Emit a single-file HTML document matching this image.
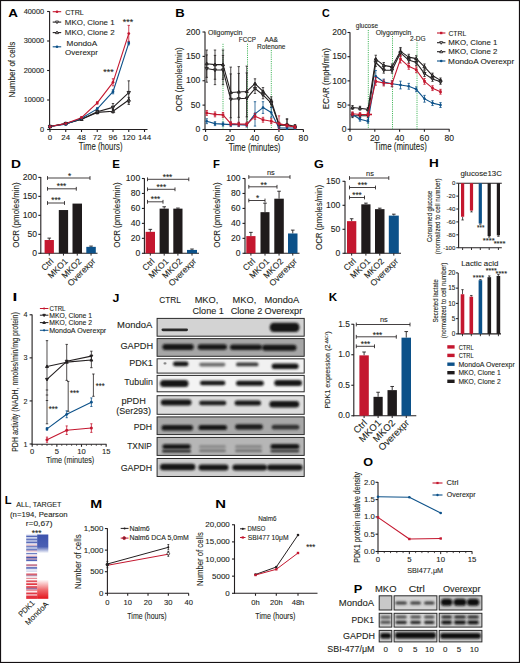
<!DOCTYPE html><html><head><meta charset="utf-8"><style>html,body{margin:0;padding:0;background:#fff;}svg{display:block;font-family:"Liberation Sans",sans-serif;}text{stroke:#231f20;stroke-width:0.1px;}text[font-weight=bold]{stroke:none;}</style></head><body><svg width="520" height="663" viewBox="0 0 520 663" font-family="Liberation Sans, sans-serif" fill="#231f20"><defs><filter id="bl" x="-20%" y="-80%" width="140%" height="260%"><feGaussianBlur stdDeviation="0.85"/></filter><filter id="bl2" x="-20%" y="-80%" width="140%" height="260%"><feGaussianBlur stdDeviation="0.5"/></filter></defs><rect x="0" y="0" width="520" height="663" fill="#fff"/>
<text x="8.16" y="16.6" font-size="10.8" font-weight="bold" fill="#000" textLength="9.7" lengthAdjust="spacingAndGlyphs">A</text>
<line x1="49.6" y1="11.2" x2="49.6" y2="130" stroke="#231f20" stroke-width="1.1"/>
<line x1="47.1" y1="11.5" x2="49.6" y2="11.5" stroke="#231f20" stroke-width="1.1"/>
<text x="44.2" y="13.79" font-size="7.4" text-anchor="end">40000</text>
<line x1="47.1" y1="41" x2="49.6" y2="41" stroke="#231f20" stroke-width="1.1"/>
<text x="44.2" y="43.29" font-size="7.4" text-anchor="end">30000</text>
<line x1="47.1" y1="70.5" x2="49.6" y2="70.5" stroke="#231f20" stroke-width="1.1"/>
<text x="44.2" y="72.79" font-size="7.4" text-anchor="end">20000</text>
<line x1="47.1" y1="100" x2="49.6" y2="100" stroke="#231f20" stroke-width="1.1"/>
<text x="44.2" y="102.29" font-size="7.4" text-anchor="end">10000</text>
<line x1="47.1" y1="129.5" x2="49.6" y2="129.5" stroke="#231f20" stroke-width="1.1"/>
<text x="44.2" y="131.79" font-size="7.4" text-anchor="end">0</text>
<line x1="49.1" y1="129.5" x2="147.5" y2="129.5" stroke="#231f20" stroke-width="1.1"/>
<line x1="50" y1="129.5" x2="50" y2="132" stroke="#231f20" stroke-width="1.1"/>
<text x="50" y="139.84" font-size="7.9" text-anchor="middle">0</text>
<line x1="65.75" y1="129.5" x2="65.75" y2="132" stroke="#231f20" stroke-width="1.1"/>
<text x="65.75" y="139.84" font-size="7.9" text-anchor="middle">24</text>
<line x1="81.5" y1="129.5" x2="81.5" y2="132" stroke="#231f20" stroke-width="1.1"/>
<text x="81.5" y="139.84" font-size="7.9" text-anchor="middle">48</text>
<line x1="97.25" y1="129.5" x2="97.25" y2="132" stroke="#231f20" stroke-width="1.1"/>
<text x="97.25" y="139.84" font-size="7.9" text-anchor="middle">72</text>
<line x1="113" y1="129.5" x2="113" y2="132" stroke="#231f20" stroke-width="1.1"/>
<text x="113" y="139.84" font-size="7.9" text-anchor="middle">96</text>
<line x1="128.76" y1="129.5" x2="128.76" y2="132" stroke="#231f20" stroke-width="1.1"/>
<text x="128.76" y="139.84" font-size="7.9" text-anchor="middle">120</text>
<line x1="144.51" y1="129.5" x2="144.51" y2="132" stroke="#231f20" stroke-width="1.1"/>
<text x="144.51" y="139.84" font-size="7.9" text-anchor="middle">144</text>
<text x="78.85" y="150.3" font-size="10" textLength="43.62" lengthAdjust="spacingAndGlyphs">Time (hours)</text>
<text transform="translate(15.41 97.44) rotate(-90)" font-size="9" textLength="55.84" lengthAdjust="spacingAndGlyphs">Number of cells</text>
<polyline points="50,126.55 65.75,123.6 81.5,119.17 97.25,112.39 113,111.21 128.76,100" fill="none" stroke="#231f20" stroke-width="1.1" stroke-linejoin="round"/>
<line x1="50" y1="125.67" x2="50" y2="127.44" stroke="#231f20" stroke-width="0.8"/>
<line x1="48.8" y1="125.67" x2="51.2" y2="125.67" stroke="#231f20" stroke-width="0.8"/>
<line x1="48.8" y1="127.44" x2="51.2" y2="127.44" stroke="#231f20" stroke-width="0.8"/>
<line x1="65.75" y1="122.72" x2="65.75" y2="124.48" stroke="#231f20" stroke-width="0.8"/>
<line x1="64.55" y1="122.72" x2="66.95" y2="122.72" stroke="#231f20" stroke-width="0.8"/>
<line x1="64.55" y1="124.48" x2="66.95" y2="124.48" stroke="#231f20" stroke-width="0.8"/>
<line x1="81.5" y1="118" x2="81.5" y2="120.36" stroke="#231f20" stroke-width="0.8"/>
<line x1="80.3" y1="118" x2="82.7" y2="118" stroke="#231f20" stroke-width="0.8"/>
<line x1="80.3" y1="120.36" x2="82.7" y2="120.36" stroke="#231f20" stroke-width="0.8"/>
<line x1="97.25" y1="110.91" x2="97.25" y2="113.86" stroke="#231f20" stroke-width="0.8"/>
<line x1="96.05" y1="110.91" x2="98.45" y2="110.91" stroke="#231f20" stroke-width="0.8"/>
<line x1="96.05" y1="113.86" x2="98.45" y2="113.86" stroke="#231f20" stroke-width="0.8"/>
<line x1="113" y1="109.44" x2="113" y2="112.98" stroke="#231f20" stroke-width="0.8"/>
<line x1="111.8" y1="109.44" x2="114.2" y2="109.44" stroke="#231f20" stroke-width="0.8"/>
<line x1="111.8" y1="112.98" x2="114.2" y2="112.98" stroke="#231f20" stroke-width="0.8"/>
<line x1="128.76" y1="97.34" x2="128.76" y2="102.66" stroke="#231f20" stroke-width="0.8"/>
<line x1="127.56" y1="97.34" x2="129.96" y2="97.34" stroke="#231f20" stroke-width="0.8"/>
<line x1="127.56" y1="102.66" x2="129.96" y2="102.66" stroke="#231f20" stroke-width="0.8"/>
<polyline points="50,126.55 65.75,123.6 81.5,119.17 97.25,111.8 113,107.38 128.76,92.62" fill="none" stroke="#231f20" stroke-width="1.1" stroke-linejoin="round"/>
<line x1="50" y1="125.67" x2="50" y2="127.44" stroke="#231f20" stroke-width="0.8"/>
<line x1="48.8" y1="125.67" x2="51.2" y2="125.67" stroke="#231f20" stroke-width="0.8"/>
<line x1="48.8" y1="127.44" x2="51.2" y2="127.44" stroke="#231f20" stroke-width="0.8"/>
<line x1="65.75" y1="122.72" x2="65.75" y2="124.48" stroke="#231f20" stroke-width="0.8"/>
<line x1="64.55" y1="122.72" x2="66.95" y2="122.72" stroke="#231f20" stroke-width="0.8"/>
<line x1="64.55" y1="124.48" x2="66.95" y2="124.48" stroke="#231f20" stroke-width="0.8"/>
<line x1="81.5" y1="118" x2="81.5" y2="120.36" stroke="#231f20" stroke-width="0.8"/>
<line x1="80.3" y1="118" x2="82.7" y2="118" stroke="#231f20" stroke-width="0.8"/>
<line x1="80.3" y1="120.36" x2="82.7" y2="120.36" stroke="#231f20" stroke-width="0.8"/>
<line x1="97.25" y1="110.33" x2="97.25" y2="113.28" stroke="#231f20" stroke-width="0.8"/>
<line x1="96.05" y1="110.33" x2="98.45" y2="110.33" stroke="#231f20" stroke-width="0.8"/>
<line x1="96.05" y1="113.28" x2="98.45" y2="113.28" stroke="#231f20" stroke-width="0.8"/>
<line x1="113" y1="103.54" x2="113" y2="111.21" stroke="#231f20" stroke-width="0.8"/>
<line x1="111.8" y1="103.54" x2="114.2" y2="103.54" stroke="#231f20" stroke-width="0.8"/>
<line x1="111.8" y1="111.21" x2="114.2" y2="111.21" stroke="#231f20" stroke-width="0.8"/>
<line x1="128.76" y1="80.83" x2="128.76" y2="104.42" stroke="#231f20" stroke-width="0.8"/>
<line x1="127.56" y1="80.83" x2="129.96" y2="80.83" stroke="#231f20" stroke-width="0.8"/>
<line x1="127.56" y1="104.42" x2="129.96" y2="104.42" stroke="#231f20" stroke-width="0.8"/>
<polyline points="50,126.55 65.75,124.19 81.5,118.29 97.25,108.85 113,91.74 128.76,43.06" fill="none" stroke="#0c5189" stroke-width="1.1" stroke-linejoin="round"/>
<line x1="50" y1="125.67" x2="50" y2="127.44" stroke="#0c5189" stroke-width="0.8"/>
<line x1="48.8" y1="125.67" x2="51.2" y2="125.67" stroke="#0c5189" stroke-width="0.8"/>
<line x1="48.8" y1="127.44" x2="51.2" y2="127.44" stroke="#0c5189" stroke-width="0.8"/>
<line x1="65.75" y1="123.31" x2="65.75" y2="125.08" stroke="#0c5189" stroke-width="0.8"/>
<line x1="64.55" y1="123.31" x2="66.95" y2="123.31" stroke="#0c5189" stroke-width="0.8"/>
<line x1="64.55" y1="125.08" x2="66.95" y2="125.08" stroke="#0c5189" stroke-width="0.8"/>
<line x1="81.5" y1="117.41" x2="81.5" y2="119.17" stroke="#0c5189" stroke-width="0.8"/>
<line x1="80.3" y1="117.41" x2="82.7" y2="117.41" stroke="#0c5189" stroke-width="0.8"/>
<line x1="80.3" y1="119.17" x2="82.7" y2="119.17" stroke="#0c5189" stroke-width="0.8"/>
<line x1="97.25" y1="107.67" x2="97.25" y2="110.03" stroke="#0c5189" stroke-width="0.8"/>
<line x1="96.05" y1="107.67" x2="98.45" y2="107.67" stroke="#0c5189" stroke-width="0.8"/>
<line x1="96.05" y1="110.03" x2="98.45" y2="110.03" stroke="#0c5189" stroke-width="0.8"/>
<line x1="113" y1="89.68" x2="113" y2="93.81" stroke="#0c5189" stroke-width="0.8"/>
<line x1="111.8" y1="89.68" x2="114.2" y2="89.68" stroke="#0c5189" stroke-width="0.8"/>
<line x1="111.8" y1="93.81" x2="114.2" y2="93.81" stroke="#0c5189" stroke-width="0.8"/>
<line x1="128.76" y1="41.3" x2="128.76" y2="44.84" stroke="#0c5189" stroke-width="0.8"/>
<line x1="127.56" y1="41.3" x2="129.96" y2="41.3" stroke="#0c5189" stroke-width="0.8"/>
<line x1="127.56" y1="44.84" x2="129.96" y2="44.84" stroke="#0c5189" stroke-width="0.8"/>
<polyline points="50,126.55 65.75,123.6 81.5,117.7 97.25,102.95 113,82.3 128.76,33.62" fill="none" stroke="#c4172f" stroke-width="1.1" stroke-linejoin="round"/>
<line x1="50" y1="125.67" x2="50" y2="127.44" stroke="#c4172f" stroke-width="0.8"/>
<line x1="48.8" y1="125.67" x2="51.2" y2="125.67" stroke="#c4172f" stroke-width="0.8"/>
<line x1="48.8" y1="127.44" x2="51.2" y2="127.44" stroke="#c4172f" stroke-width="0.8"/>
<line x1="65.75" y1="122.72" x2="65.75" y2="124.48" stroke="#c4172f" stroke-width="0.8"/>
<line x1="64.55" y1="122.72" x2="66.95" y2="122.72" stroke="#c4172f" stroke-width="0.8"/>
<line x1="64.55" y1="124.48" x2="66.95" y2="124.48" stroke="#c4172f" stroke-width="0.8"/>
<line x1="81.5" y1="116.52" x2="81.5" y2="118.88" stroke="#c4172f" stroke-width="0.8"/>
<line x1="80.3" y1="116.52" x2="82.7" y2="116.52" stroke="#c4172f" stroke-width="0.8"/>
<line x1="80.3" y1="118.88" x2="82.7" y2="118.88" stroke="#c4172f" stroke-width="0.8"/>
<line x1="97.25" y1="101.77" x2="97.25" y2="104.13" stroke="#c4172f" stroke-width="0.8"/>
<line x1="96.05" y1="101.77" x2="98.45" y2="101.77" stroke="#c4172f" stroke-width="0.8"/>
<line x1="96.05" y1="104.13" x2="98.45" y2="104.13" stroke="#c4172f" stroke-width="0.8"/>
<line x1="113" y1="78.76" x2="113" y2="85.84" stroke="#c4172f" stroke-width="0.8"/>
<line x1="111.8" y1="78.76" x2="114.2" y2="78.76" stroke="#c4172f" stroke-width="0.8"/>
<line x1="111.8" y1="85.84" x2="114.2" y2="85.84" stroke="#c4172f" stroke-width="0.8"/>
<line x1="128.76" y1="25.37" x2="128.76" y2="41.89" stroke="#c4172f" stroke-width="0.8"/>
<line x1="127.56" y1="25.37" x2="129.96" y2="25.37" stroke="#c4172f" stroke-width="0.8"/>
<line x1="127.56" y1="41.89" x2="129.96" y2="41.89" stroke="#c4172f" stroke-width="0.8"/>
<polygon points="50,124.78 48.3,127.73 51.7,127.73" fill="#555" stroke="#231f20" stroke-width="0.9"/>
<polygon points="65.75,121.83 64.05,124.78 67.45,124.78" fill="#555" stroke="#231f20" stroke-width="0.9"/>
<polygon points="81.5,117.4 79.8,120.36 83.2,120.36" fill="#555" stroke="#231f20" stroke-width="0.9"/>
<polygon points="97.25,110.62 95.55,113.57 98.95,113.57" fill="#555" stroke="#231f20" stroke-width="0.9"/>
<polygon points="113,109.44 111.3,112.39 114.7,112.39" fill="#555" stroke="#231f20" stroke-width="0.9"/>
<polygon points="128.76,98.23 127.06,101.18 130.46,101.18" fill="#555" stroke="#231f20" stroke-width="0.9"/>
<polygon points="50,128.32 48.3,125.37 51.7,125.37" fill="#555" stroke="#231f20" stroke-width="0.9"/>
<polygon points="65.75,125.37 64.05,122.42 67.45,122.42" fill="#555" stroke="#231f20" stroke-width="0.9"/>
<polygon points="81.5,120.95 79.8,117.99 83.2,117.99" fill="#555" stroke="#231f20" stroke-width="0.9"/>
<polygon points="97.25,113.57 95.55,110.62 98.95,110.62" fill="#555" stroke="#231f20" stroke-width="0.9"/>
<polygon points="113,109.15 111.3,106.19 114.7,106.19" fill="#555" stroke="#231f20" stroke-width="0.9"/>
<polygon points="128.76,94.4 127.06,91.44 130.46,91.44" fill="#555" stroke="#231f20" stroke-width="0.9"/>
<circle cx="50" cy="126.55" r="1.4" fill="#0c5189" stroke="none" stroke-width="0"/>
<circle cx="65.75" cy="124.19" r="1.4" fill="#0c5189" stroke="none" stroke-width="0"/>
<circle cx="81.5" cy="118.29" r="1.4" fill="#0c5189" stroke="none" stroke-width="0"/>
<circle cx="97.25" cy="108.85" r="1.4" fill="#0c5189" stroke="none" stroke-width="0"/>
<circle cx="113" cy="91.74" r="1.4" fill="#0c5189" stroke="none" stroke-width="0"/>
<circle cx="128.76" cy="43.06" r="1.4" fill="#0c5189" stroke="none" stroke-width="0"/>
<circle cx="50" cy="126.55" r="1.4" fill="#c4172f" stroke="none" stroke-width="0"/>
<circle cx="65.75" cy="123.6" r="1.4" fill="#c4172f" stroke="none" stroke-width="0"/>
<circle cx="81.5" cy="117.7" r="1.4" fill="#c4172f" stroke="none" stroke-width="0"/>
<circle cx="97.25" cy="102.95" r="1.4" fill="#c4172f" stroke="none" stroke-width="0"/>
<circle cx="113" cy="82.3" r="1.4" fill="#c4172f" stroke="none" stroke-width="0"/>
<circle cx="128.76" cy="33.62" r="1.4" fill="#c4172f" stroke="none" stroke-width="0"/>
<text x="122.82" y="25.22" font-size="8.2" textLength="10.33" lengthAdjust="spacingAndGlyphs">***</text>
<text x="103.32" y="75.22" font-size="8.2" textLength="10.33" lengthAdjust="spacingAndGlyphs">***</text>
<line x1="52.7" y1="11.7" x2="61.2" y2="11.7" stroke="#c4172f" stroke-width="1.1"/>
<circle cx="57" cy="11.7" r="1.3" fill="#c4172f" stroke="none" stroke-width="0"/>
<line x1="52.7" y1="22.1" x2="61.2" y2="22.1" stroke="#231f20" stroke-width="1.1"/>
<polygon points="57,23.67 55.5,21.06 58.5,21.06" fill="#fff" stroke="#231f20" stroke-width="0.9"/>
<line x1="52.7" y1="32.6" x2="61.2" y2="32.6" stroke="#231f20" stroke-width="1.1"/>
<polygon points="57,31.03 55.5,33.64 58.5,33.64" fill="#fff" stroke="#231f20" stroke-width="0.9"/>
<line x1="52.7" y1="46.8" x2="61.2" y2="46.8" stroke="#0c5189" stroke-width="1.1"/>
<circle cx="57" cy="46.8" r="1.3" fill="#0c5189" stroke="none" stroke-width="0"/>
<text x="65.14" y="14.8" font-size="7.9" textLength="18.68" lengthAdjust="spacingAndGlyphs">CTRL</text>
<text x="64.87" y="24.9" font-size="7.9" textLength="49.73" lengthAdjust="spacingAndGlyphs">MKO, Clone 1</text>
<text x="64.87" y="35.1" font-size="7.9" textLength="49.73" lengthAdjust="spacingAndGlyphs">MKO, Clone 2</text>
<text x="66.54" y="45.7" font-size="7.9" textLength="30.66" lengthAdjust="spacingAndGlyphs">MondoA</text>
<text x="65.14" y="54.7" font-size="7.9" textLength="32.8" lengthAdjust="spacingAndGlyphs">Overexpr</text>
<text x="175.15" y="17" font-size="10.8" font-weight="bold" fill="#000" textLength="9.47" lengthAdjust="spacingAndGlyphs">B</text>
<line x1="205" y1="31.7" x2="205" y2="130" stroke="#231f20" stroke-width="1.1"/>
<line x1="202.5" y1="32" x2="205" y2="32" stroke="#231f20" stroke-width="1.1"/>
<text x="200.3" y="34.67" font-size="8.6" text-anchor="end">200</text>
<line x1="202.5" y1="56.38" x2="205" y2="56.38" stroke="#231f20" stroke-width="1.1"/>
<text x="200.3" y="59.04" font-size="8.6" text-anchor="end">150</text>
<line x1="202.5" y1="80.75" x2="205" y2="80.75" stroke="#231f20" stroke-width="1.1"/>
<text x="200.3" y="83.42" font-size="8.6" text-anchor="end">100</text>
<line x1="202.5" y1="105.12" x2="205" y2="105.12" stroke="#231f20" stroke-width="1.1"/>
<text x="200.3" y="107.79" font-size="8.6" text-anchor="end">50</text>
<line x1="202.5" y1="129.5" x2="205" y2="129.5" stroke="#231f20" stroke-width="1.1"/>
<text x="200.3" y="132.17" font-size="8.6" text-anchor="end">0</text>
<line x1="204.5" y1="129.5" x2="303.5" y2="129.5" stroke="#231f20" stroke-width="1.1"/>
<line x1="205.6" y1="129.5" x2="205.6" y2="132" stroke="#231f20" stroke-width="1.1"/>
<text x="205.6" y="140.7" font-size="8.6" text-anchor="middle">0</text>
<line x1="230.05" y1="129.5" x2="230.05" y2="132" stroke="#231f20" stroke-width="1.1"/>
<text x="230.05" y="140.7" font-size="8.6" text-anchor="middle">20</text>
<line x1="254.5" y1="129.5" x2="254.5" y2="132" stroke="#231f20" stroke-width="1.1"/>
<text x="254.5" y="140.7" font-size="8.6" text-anchor="middle">40</text>
<line x1="278.95" y1="129.5" x2="278.95" y2="132" stroke="#231f20" stroke-width="1.1"/>
<text x="278.95" y="140.7" font-size="8.6" text-anchor="middle">60</text>
<line x1="303.4" y1="129.5" x2="303.4" y2="132" stroke="#231f20" stroke-width="1.1"/>
<text x="303.4" y="140.7" font-size="8.6" text-anchor="middle">80</text>
<text x="228.64" y="151.2" font-size="10" textLength="51.83" lengthAdjust="spacingAndGlyphs">Time (minutes)</text>
<text transform="translate(182.24 111.55) rotate(-90)" font-size="8.8" textLength="64.25" lengthAdjust="spacingAndGlyphs">OCR (pmoles/min)</text>
<line x1="223" y1="43.8" x2="223" y2="129" stroke="#2eae48" stroke-width="0.9" stroke-dasharray="1.1 1.1"/>
<line x1="247.5" y1="43.8" x2="247.5" y2="129" stroke="#2eae48" stroke-width="0.9" stroke-dasharray="1.1 1.1"/>
<line x1="271.3" y1="50" x2="271.3" y2="129" stroke="#2eae48" stroke-width="0.9" stroke-dasharray="1.1 1.1"/>
<text x="208" y="34.5" font-size="7" textLength="34.5" lengthAdjust="spacingAndGlyphs">Oligomycin</text>
<text x="238.8" y="42" font-size="7" textLength="17.2" lengthAdjust="spacingAndGlyphs">FCCP</text>
<text x="264.5" y="42" font-size="7" textLength="13.5" lengthAdjust="spacingAndGlyphs">AA&amp;</text>
<text x="257" y="48.5" font-size="7" textLength="28.5" lengthAdjust="spacingAndGlyphs">Rotenone</text>
<polyline points="206.75,63.69 215,64.66 223,64.66 230.75,92.45 238.75,91.96 246.75,91.47 255,83.68 263,91.47 271.25,100.74 279,124.62 287,124.62 295,126.58" fill="none" stroke="#231f20" stroke-width="1.1" stroke-linejoin="round"/>
<line x1="206.75" y1="50.04" x2="206.75" y2="77.34" stroke="#231f20" stroke-width="0.8"/>
<line x1="205.55" y1="50.04" x2="207.95" y2="50.04" stroke="#231f20" stroke-width="0.8"/>
<line x1="205.55" y1="77.34" x2="207.95" y2="77.34" stroke="#231f20" stroke-width="0.8"/>
<line x1="215" y1="50.04" x2="215" y2="79.29" stroke="#231f20" stroke-width="0.8"/>
<line x1="213.8" y1="50.04" x2="216.2" y2="50.04" stroke="#231f20" stroke-width="0.8"/>
<line x1="213.8" y1="79.29" x2="216.2" y2="79.29" stroke="#231f20" stroke-width="0.8"/>
<line x1="223" y1="50.04" x2="223" y2="79.29" stroke="#231f20" stroke-width="0.8"/>
<line x1="221.8" y1="50.04" x2="224.2" y2="50.04" stroke="#231f20" stroke-width="0.8"/>
<line x1="221.8" y1="79.29" x2="224.2" y2="79.29" stroke="#231f20" stroke-width="0.8"/>
<line x1="230.75" y1="67.1" x2="230.75" y2="117.8" stroke="#231f20" stroke-width="0.8"/>
<line x1="229.55" y1="67.1" x2="231.95" y2="67.1" stroke="#231f20" stroke-width="0.8"/>
<line x1="229.55" y1="117.8" x2="231.95" y2="117.8" stroke="#231f20" stroke-width="0.8"/>
<line x1="238.75" y1="66.61" x2="238.75" y2="117.31" stroke="#231f20" stroke-width="0.8"/>
<line x1="237.55" y1="66.61" x2="239.95" y2="66.61" stroke="#231f20" stroke-width="0.8"/>
<line x1="237.55" y1="117.31" x2="239.95" y2="117.31" stroke="#231f20" stroke-width="0.8"/>
<line x1="246.75" y1="66.12" x2="246.75" y2="116.83" stroke="#231f20" stroke-width="0.8"/>
<line x1="245.55" y1="66.12" x2="247.95" y2="66.12" stroke="#231f20" stroke-width="0.8"/>
<line x1="245.55" y1="116.83" x2="247.95" y2="116.83" stroke="#231f20" stroke-width="0.8"/>
<line x1="255" y1="78.8" x2="255" y2="88.55" stroke="#231f20" stroke-width="0.8"/>
<line x1="253.8" y1="78.8" x2="256.2" y2="78.8" stroke="#231f20" stroke-width="0.8"/>
<line x1="253.8" y1="88.55" x2="256.2" y2="88.55" stroke="#231f20" stroke-width="0.8"/>
<line x1="263" y1="87.58" x2="263" y2="95.38" stroke="#231f20" stroke-width="0.8"/>
<line x1="261.8" y1="87.58" x2="264.2" y2="87.58" stroke="#231f20" stroke-width="0.8"/>
<line x1="261.8" y1="95.38" x2="264.2" y2="95.38" stroke="#231f20" stroke-width="0.8"/>
<line x1="271.25" y1="96.84" x2="271.25" y2="104.64" stroke="#231f20" stroke-width="0.8"/>
<line x1="270.05" y1="96.84" x2="272.45" y2="96.84" stroke="#231f20" stroke-width="0.8"/>
<line x1="270.05" y1="104.64" x2="272.45" y2="104.64" stroke="#231f20" stroke-width="0.8"/>
<line x1="279" y1="122.19" x2="279" y2="127.06" stroke="#231f20" stroke-width="0.8"/>
<line x1="277.8" y1="122.19" x2="280.2" y2="122.19" stroke="#231f20" stroke-width="0.8"/>
<line x1="277.8" y1="127.06" x2="280.2" y2="127.06" stroke="#231f20" stroke-width="0.8"/>
<line x1="287" y1="118.78" x2="287" y2="129.5" stroke="#231f20" stroke-width="0.8"/>
<line x1="285.8" y1="118.78" x2="288.2" y2="118.78" stroke="#231f20" stroke-width="0.8"/>
<line x1="285.8" y1="129.5" x2="288.2" y2="129.5" stroke="#231f20" stroke-width="0.8"/>
<line x1="295" y1="124.62" x2="295" y2="128.53" stroke="#231f20" stroke-width="0.8"/>
<line x1="293.8" y1="124.62" x2="296.2" y2="124.62" stroke="#231f20" stroke-width="0.8"/>
<line x1="293.8" y1="128.53" x2="296.2" y2="128.53" stroke="#231f20" stroke-width="0.8"/>
<polygon points="206.75,62.02 205.15,64.8 208.35,64.8" fill="#555" stroke="#231f20" stroke-width="0.9"/>
<polygon points="215,62.99 213.4,65.78 216.6,65.78" fill="#555" stroke="#231f20" stroke-width="0.9"/>
<polygon points="223,62.99 221.4,65.78 224.6,65.78" fill="#555" stroke="#231f20" stroke-width="0.9"/>
<polygon points="230.75,90.78 229.15,93.56 232.35,93.56" fill="#555" stroke="#231f20" stroke-width="0.9"/>
<polygon points="238.75,90.29 237.15,93.08 240.35,93.08" fill="#555" stroke="#231f20" stroke-width="0.9"/>
<polygon points="246.75,89.8 245.15,92.59 248.35,92.59" fill="#555" stroke="#231f20" stroke-width="0.9"/>
<polygon points="255,82 253.4,84.79 256.6,84.79" fill="#555" stroke="#231f20" stroke-width="0.9"/>
<polygon points="263,89.8 261.4,92.59 264.6,92.59" fill="#555" stroke="#231f20" stroke-width="0.9"/>
<polygon points="271.25,99.07 269.65,101.85 272.85,101.85" fill="#555" stroke="#231f20" stroke-width="0.9"/>
<polygon points="279,122.95 277.4,125.74 280.6,125.74" fill="#555" stroke="#231f20" stroke-width="0.9"/>
<polygon points="287,122.95 285.4,125.74 288.6,125.74" fill="#555" stroke="#231f20" stroke-width="0.9"/>
<polygon points="295,124.9 293.4,127.69 296.6,127.69" fill="#555" stroke="#231f20" stroke-width="0.9"/>
<polyline points="206.75,68.56 215,70.03 223,70.03 230.75,99.28 238.75,98.79 246.75,98.3 255,88.55 263,94.89 271.25,103.17 279,125.11 287,125.11 295,127.06" fill="none" stroke="#231f20" stroke-width="1.1" stroke-linejoin="round"/>
<line x1="206.75" y1="54.91" x2="206.75" y2="82.21" stroke="#231f20" stroke-width="0.8"/>
<line x1="205.55" y1="54.91" x2="207.95" y2="54.91" stroke="#231f20" stroke-width="0.8"/>
<line x1="205.55" y1="82.21" x2="207.95" y2="82.21" stroke="#231f20" stroke-width="0.8"/>
<line x1="215" y1="55.4" x2="215" y2="84.65" stroke="#231f20" stroke-width="0.8"/>
<line x1="213.8" y1="55.4" x2="216.2" y2="55.4" stroke="#231f20" stroke-width="0.8"/>
<line x1="213.8" y1="84.65" x2="216.2" y2="84.65" stroke="#231f20" stroke-width="0.8"/>
<line x1="223" y1="55.4" x2="223" y2="84.65" stroke="#231f20" stroke-width="0.8"/>
<line x1="221.8" y1="55.4" x2="224.2" y2="55.4" stroke="#231f20" stroke-width="0.8"/>
<line x1="221.8" y1="84.65" x2="224.2" y2="84.65" stroke="#231f20" stroke-width="0.8"/>
<line x1="230.75" y1="73.93" x2="230.75" y2="124.62" stroke="#231f20" stroke-width="0.8"/>
<line x1="229.55" y1="73.93" x2="231.95" y2="73.93" stroke="#231f20" stroke-width="0.8"/>
<line x1="229.55" y1="124.62" x2="231.95" y2="124.62" stroke="#231f20" stroke-width="0.8"/>
<line x1="238.75" y1="73.44" x2="238.75" y2="124.14" stroke="#231f20" stroke-width="0.8"/>
<line x1="237.55" y1="73.44" x2="239.95" y2="73.44" stroke="#231f20" stroke-width="0.8"/>
<line x1="237.55" y1="124.14" x2="239.95" y2="124.14" stroke="#231f20" stroke-width="0.8"/>
<line x1="246.75" y1="72.95" x2="246.75" y2="123.65" stroke="#231f20" stroke-width="0.8"/>
<line x1="245.55" y1="72.95" x2="247.95" y2="72.95" stroke="#231f20" stroke-width="0.8"/>
<line x1="245.55" y1="123.65" x2="247.95" y2="123.65" stroke="#231f20" stroke-width="0.8"/>
<line x1="255" y1="83.68" x2="255" y2="93.43" stroke="#231f20" stroke-width="0.8"/>
<line x1="253.8" y1="83.68" x2="256.2" y2="83.68" stroke="#231f20" stroke-width="0.8"/>
<line x1="253.8" y1="93.43" x2="256.2" y2="93.43" stroke="#231f20" stroke-width="0.8"/>
<line x1="263" y1="90.99" x2="263" y2="98.79" stroke="#231f20" stroke-width="0.8"/>
<line x1="261.8" y1="90.99" x2="264.2" y2="90.99" stroke="#231f20" stroke-width="0.8"/>
<line x1="261.8" y1="98.79" x2="264.2" y2="98.79" stroke="#231f20" stroke-width="0.8"/>
<line x1="271.25" y1="99.28" x2="271.25" y2="107.08" stroke="#231f20" stroke-width="0.8"/>
<line x1="270.05" y1="99.28" x2="272.45" y2="99.28" stroke="#231f20" stroke-width="0.8"/>
<line x1="270.05" y1="107.08" x2="272.45" y2="107.08" stroke="#231f20" stroke-width="0.8"/>
<line x1="279" y1="122.67" x2="279" y2="127.55" stroke="#231f20" stroke-width="0.8"/>
<line x1="277.8" y1="122.67" x2="280.2" y2="122.67" stroke="#231f20" stroke-width="0.8"/>
<line x1="277.8" y1="127.55" x2="280.2" y2="127.55" stroke="#231f20" stroke-width="0.8"/>
<line x1="287" y1="119.26" x2="287" y2="129.5" stroke="#231f20" stroke-width="0.8"/>
<line x1="285.8" y1="119.26" x2="288.2" y2="119.26" stroke="#231f20" stroke-width="0.8"/>
<line x1="285.8" y1="129.5" x2="288.2" y2="129.5" stroke="#231f20" stroke-width="0.8"/>
<line x1="295" y1="125.11" x2="295" y2="129.01" stroke="#231f20" stroke-width="0.8"/>
<line x1="293.8" y1="125.11" x2="296.2" y2="125.11" stroke="#231f20" stroke-width="0.8"/>
<line x1="293.8" y1="129.01" x2="296.2" y2="129.01" stroke="#231f20" stroke-width="0.8"/>
<polygon points="206.75,70.23 205.15,67.45 208.35,67.45" fill="#555" stroke="#231f20" stroke-width="0.9"/>
<polygon points="215,71.7 213.4,68.91 216.6,68.91" fill="#555" stroke="#231f20" stroke-width="0.9"/>
<polygon points="223,71.7 221.4,68.91 224.6,68.91" fill="#555" stroke="#231f20" stroke-width="0.9"/>
<polygon points="230.75,100.95 229.15,98.16 232.35,98.16" fill="#555" stroke="#231f20" stroke-width="0.9"/>
<polygon points="238.75,100.46 237.15,97.67 240.35,97.67" fill="#555" stroke="#231f20" stroke-width="0.9"/>
<polygon points="246.75,99.97 245.15,97.19 248.35,97.19" fill="#555" stroke="#231f20" stroke-width="0.9"/>
<polygon points="255,90.22 253.4,87.44 256.6,87.44" fill="#555" stroke="#231f20" stroke-width="0.9"/>
<polygon points="263,96.56 261.4,93.77 264.6,93.77" fill="#555" stroke="#231f20" stroke-width="0.9"/>
<polygon points="271.25,104.85 269.65,102.06 272.85,102.06" fill="#555" stroke="#231f20" stroke-width="0.9"/>
<polygon points="279,126.78 277.4,124 280.6,124" fill="#555" stroke="#231f20" stroke-width="0.9"/>
<polygon points="287,126.78 285.4,124 288.6,124" fill="#555" stroke="#231f20" stroke-width="0.9"/>
<polygon points="295,128.73 293.4,125.95 296.6,125.95" fill="#555" stroke="#231f20" stroke-width="0.9"/>
<polyline points="206.75,121.21 215,123.65 223,124.14 230.75,124.62 238.75,124.62 246.75,125.11 255,113.9 263,107.56 271.25,112.44 279,128.04 287,128.04 295,128.04" fill="none" stroke="#0c5189" stroke-width="1.1" stroke-linejoin="round"/>
<line x1="206.75" y1="118.78" x2="206.75" y2="123.65" stroke="#0c5189" stroke-width="0.8"/>
<line x1="205.55" y1="118.78" x2="207.95" y2="118.78" stroke="#0c5189" stroke-width="0.8"/>
<line x1="205.55" y1="123.65" x2="207.95" y2="123.65" stroke="#0c5189" stroke-width="0.8"/>
<line x1="215" y1="121.7" x2="215" y2="125.6" stroke="#0c5189" stroke-width="0.8"/>
<line x1="213.8" y1="121.7" x2="216.2" y2="121.7" stroke="#0c5189" stroke-width="0.8"/>
<line x1="213.8" y1="125.6" x2="216.2" y2="125.6" stroke="#0c5189" stroke-width="0.8"/>
<line x1="223" y1="122.19" x2="223" y2="126.09" stroke="#0c5189" stroke-width="0.8"/>
<line x1="221.8" y1="122.19" x2="224.2" y2="122.19" stroke="#0c5189" stroke-width="0.8"/>
<line x1="221.8" y1="126.09" x2="224.2" y2="126.09" stroke="#0c5189" stroke-width="0.8"/>
<line x1="230.75" y1="122.67" x2="230.75" y2="126.58" stroke="#0c5189" stroke-width="0.8"/>
<line x1="229.55" y1="122.67" x2="231.95" y2="122.67" stroke="#0c5189" stroke-width="0.8"/>
<line x1="229.55" y1="126.58" x2="231.95" y2="126.58" stroke="#0c5189" stroke-width="0.8"/>
<line x1="238.75" y1="122.67" x2="238.75" y2="126.58" stroke="#0c5189" stroke-width="0.8"/>
<line x1="237.55" y1="122.67" x2="239.95" y2="122.67" stroke="#0c5189" stroke-width="0.8"/>
<line x1="237.55" y1="126.58" x2="239.95" y2="126.58" stroke="#0c5189" stroke-width="0.8"/>
<line x1="246.75" y1="123.16" x2="246.75" y2="127.06" stroke="#0c5189" stroke-width="0.8"/>
<line x1="245.55" y1="123.16" x2="247.95" y2="123.16" stroke="#0c5189" stroke-width="0.8"/>
<line x1="245.55" y1="127.06" x2="247.95" y2="127.06" stroke="#0c5189" stroke-width="0.8"/>
<line x1="255" y1="101.71" x2="255" y2="126.09" stroke="#0c5189" stroke-width="0.8"/>
<line x1="253.8" y1="101.71" x2="256.2" y2="101.71" stroke="#0c5189" stroke-width="0.8"/>
<line x1="253.8" y1="126.09" x2="256.2" y2="126.09" stroke="#0c5189" stroke-width="0.8"/>
<line x1="263" y1="101.71" x2="263" y2="113.41" stroke="#0c5189" stroke-width="0.8"/>
<line x1="261.8" y1="101.71" x2="264.2" y2="101.71" stroke="#0c5189" stroke-width="0.8"/>
<line x1="261.8" y1="113.41" x2="264.2" y2="113.41" stroke="#0c5189" stroke-width="0.8"/>
<line x1="271.25" y1="107.56" x2="271.25" y2="117.31" stroke="#0c5189" stroke-width="0.8"/>
<line x1="270.05" y1="107.56" x2="272.45" y2="107.56" stroke="#0c5189" stroke-width="0.8"/>
<line x1="270.05" y1="117.31" x2="272.45" y2="117.31" stroke="#0c5189" stroke-width="0.8"/>
<line x1="279" y1="126.58" x2="279" y2="129.5" stroke="#0c5189" stroke-width="0.8"/>
<line x1="277.8" y1="126.58" x2="280.2" y2="126.58" stroke="#0c5189" stroke-width="0.8"/>
<line x1="277.8" y1="129.5" x2="280.2" y2="129.5" stroke="#0c5189" stroke-width="0.8"/>
<line x1="287" y1="126.58" x2="287" y2="129.5" stroke="#0c5189" stroke-width="0.8"/>
<line x1="285.8" y1="126.58" x2="288.2" y2="126.58" stroke="#0c5189" stroke-width="0.8"/>
<line x1="285.8" y1="129.5" x2="288.2" y2="129.5" stroke="#0c5189" stroke-width="0.8"/>
<line x1="295" y1="126.58" x2="295" y2="129.5" stroke="#0c5189" stroke-width="0.8"/>
<line x1="293.8" y1="126.58" x2="296.2" y2="126.58" stroke="#0c5189" stroke-width="0.8"/>
<line x1="293.8" y1="129.5" x2="296.2" y2="129.5" stroke="#0c5189" stroke-width="0.8"/>
<circle cx="206.75" cy="121.21" r="1.3" fill="#0c5189" stroke="none" stroke-width="0"/>
<circle cx="215" cy="123.65" r="1.3" fill="#0c5189" stroke="none" stroke-width="0"/>
<circle cx="223" cy="124.14" r="1.3" fill="#0c5189" stroke="none" stroke-width="0"/>
<circle cx="230.75" cy="124.62" r="1.3" fill="#0c5189" stroke="none" stroke-width="0"/>
<circle cx="238.75" cy="124.62" r="1.3" fill="#0c5189" stroke="none" stroke-width="0"/>
<circle cx="246.75" cy="125.11" r="1.3" fill="#0c5189" stroke="none" stroke-width="0"/>
<circle cx="255" cy="113.9" r="1.3" fill="#0c5189" stroke="none" stroke-width="0"/>
<circle cx="263" cy="107.56" r="1.3" fill="#0c5189" stroke="none" stroke-width="0"/>
<circle cx="271.25" cy="112.44" r="1.3" fill="#0c5189" stroke="none" stroke-width="0"/>
<circle cx="279" cy="128.04" r="1.3" fill="#0c5189" stroke="none" stroke-width="0"/>
<circle cx="287" cy="128.04" r="1.3" fill="#0c5189" stroke="none" stroke-width="0"/>
<circle cx="295" cy="128.04" r="1.3" fill="#0c5189" stroke="none" stroke-width="0"/>
<polyline points="206.75,112.92 215,114.39 223,114.88 230.75,123.65 238.75,124.14 246.75,124.14 255,116.34 263,119.75 271.25,121.21 279,123.65 287,125.6 295,127.06" fill="none" stroke="#c4172f" stroke-width="1.1" stroke-linejoin="round"/>
<line x1="206.75" y1="110.49" x2="206.75" y2="115.36" stroke="#c4172f" stroke-width="0.8"/>
<line x1="205.55" y1="110.49" x2="207.95" y2="110.49" stroke="#c4172f" stroke-width="0.8"/>
<line x1="205.55" y1="115.36" x2="207.95" y2="115.36" stroke="#c4172f" stroke-width="0.8"/>
<line x1="215" y1="111.95" x2="215" y2="116.83" stroke="#c4172f" stroke-width="0.8"/>
<line x1="213.8" y1="111.95" x2="216.2" y2="111.95" stroke="#c4172f" stroke-width="0.8"/>
<line x1="213.8" y1="116.83" x2="216.2" y2="116.83" stroke="#c4172f" stroke-width="0.8"/>
<line x1="223" y1="112.44" x2="223" y2="117.31" stroke="#c4172f" stroke-width="0.8"/>
<line x1="221.8" y1="112.44" x2="224.2" y2="112.44" stroke="#c4172f" stroke-width="0.8"/>
<line x1="221.8" y1="117.31" x2="224.2" y2="117.31" stroke="#c4172f" stroke-width="0.8"/>
<line x1="230.75" y1="121.7" x2="230.75" y2="125.6" stroke="#c4172f" stroke-width="0.8"/>
<line x1="229.55" y1="121.7" x2="231.95" y2="121.7" stroke="#c4172f" stroke-width="0.8"/>
<line x1="229.55" y1="125.6" x2="231.95" y2="125.6" stroke="#c4172f" stroke-width="0.8"/>
<line x1="238.75" y1="122.19" x2="238.75" y2="126.09" stroke="#c4172f" stroke-width="0.8"/>
<line x1="237.55" y1="122.19" x2="239.95" y2="122.19" stroke="#c4172f" stroke-width="0.8"/>
<line x1="237.55" y1="126.09" x2="239.95" y2="126.09" stroke="#c4172f" stroke-width="0.8"/>
<line x1="246.75" y1="122.19" x2="246.75" y2="126.09" stroke="#c4172f" stroke-width="0.8"/>
<line x1="245.55" y1="122.19" x2="247.95" y2="122.19" stroke="#c4172f" stroke-width="0.8"/>
<line x1="245.55" y1="126.09" x2="247.95" y2="126.09" stroke="#c4172f" stroke-width="0.8"/>
<line x1="255" y1="113.41" x2="255" y2="119.26" stroke="#c4172f" stroke-width="0.8"/>
<line x1="253.8" y1="113.41" x2="256.2" y2="113.41" stroke="#c4172f" stroke-width="0.8"/>
<line x1="253.8" y1="119.26" x2="256.2" y2="119.26" stroke="#c4172f" stroke-width="0.8"/>
<line x1="263" y1="117.31" x2="263" y2="122.19" stroke="#c4172f" stroke-width="0.8"/>
<line x1="261.8" y1="117.31" x2="264.2" y2="117.31" stroke="#c4172f" stroke-width="0.8"/>
<line x1="261.8" y1="122.19" x2="264.2" y2="122.19" stroke="#c4172f" stroke-width="0.8"/>
<line x1="271.25" y1="118.78" x2="271.25" y2="123.65" stroke="#c4172f" stroke-width="0.8"/>
<line x1="270.05" y1="118.78" x2="272.45" y2="118.78" stroke="#c4172f" stroke-width="0.8"/>
<line x1="270.05" y1="123.65" x2="272.45" y2="123.65" stroke="#c4172f" stroke-width="0.8"/>
<line x1="279" y1="115.85" x2="279" y2="129.5" stroke="#c4172f" stroke-width="0.8"/>
<line x1="277.8" y1="115.85" x2="280.2" y2="115.85" stroke="#c4172f" stroke-width="0.8"/>
<line x1="277.8" y1="129.5" x2="280.2" y2="129.5" stroke="#c4172f" stroke-width="0.8"/>
<line x1="287" y1="124.14" x2="287" y2="127.06" stroke="#c4172f" stroke-width="0.8"/>
<line x1="285.8" y1="124.14" x2="288.2" y2="124.14" stroke="#c4172f" stroke-width="0.8"/>
<line x1="285.8" y1="127.06" x2="288.2" y2="127.06" stroke="#c4172f" stroke-width="0.8"/>
<line x1="295" y1="125.6" x2="295" y2="128.53" stroke="#c4172f" stroke-width="0.8"/>
<line x1="293.8" y1="125.6" x2="296.2" y2="125.6" stroke="#c4172f" stroke-width="0.8"/>
<line x1="293.8" y1="128.53" x2="296.2" y2="128.53" stroke="#c4172f" stroke-width="0.8"/>
<rect x="205.45" y="111.62" width="2.6" height="2.6" fill="#c4172f"/>
<rect x="213.7" y="113.09" width="2.6" height="2.6" fill="#c4172f"/>
<rect x="221.7" y="113.58" width="2.6" height="2.6" fill="#c4172f"/>
<rect x="229.45" y="122.35" width="2.6" height="2.6" fill="#c4172f"/>
<rect x="237.45" y="122.84" width="2.6" height="2.6" fill="#c4172f"/>
<rect x="245.45" y="122.84" width="2.6" height="2.6" fill="#c4172f"/>
<rect x="253.7" y="115.04" width="2.6" height="2.6" fill="#c4172f"/>
<rect x="261.7" y="118.45" width="2.6" height="2.6" fill="#c4172f"/>
<rect x="269.95" y="119.91" width="2.6" height="2.6" fill="#c4172f"/>
<rect x="277.7" y="122.35" width="2.6" height="2.6" fill="#c4172f"/>
<rect x="285.7" y="124.3" width="2.6" height="2.6" fill="#c4172f"/>
<rect x="293.7" y="125.76" width="2.6" height="2.6" fill="#c4172f"/>
<line x1="350" y1="32.19" x2="350" y2="129.75" stroke="#231f20" stroke-width="1.1"/>
<line x1="347.5" y1="32.49" x2="350" y2="32.49" stroke="#231f20" stroke-width="1.1"/>
<text x="346.5" y="35.16" font-size="8.6" text-anchor="end">200</text>
<line x1="347.5" y1="56.68" x2="350" y2="56.68" stroke="#231f20" stroke-width="1.1"/>
<text x="346.5" y="59.35" font-size="8.6" text-anchor="end">150</text>
<line x1="347.5" y1="80.87" x2="350" y2="80.87" stroke="#231f20" stroke-width="1.1"/>
<text x="346.5" y="83.54" font-size="8.6" text-anchor="end">100</text>
<line x1="347.5" y1="105.06" x2="350" y2="105.06" stroke="#231f20" stroke-width="1.1"/>
<text x="346.5" y="107.73" font-size="8.6" text-anchor="end">50</text>
<line x1="347.5" y1="129.25" x2="350" y2="129.25" stroke="#231f20" stroke-width="1.1"/>
<text x="346.5" y="131.92" font-size="8.6" text-anchor="end">0</text>
<line x1="349.5" y1="129.25" x2="449.5" y2="129.25" stroke="#231f20" stroke-width="1.1"/>
<line x1="350" y1="129.25" x2="350" y2="131.75" stroke="#231f20" stroke-width="1.1"/>
<text x="350" y="140.6" font-size="8.6" text-anchor="middle">0</text>
<line x1="374.8" y1="129.25" x2="374.8" y2="131.75" stroke="#231f20" stroke-width="1.1"/>
<text x="374.8" y="140.6" font-size="8.6" text-anchor="middle">20</text>
<line x1="399.6" y1="129.25" x2="399.6" y2="131.75" stroke="#231f20" stroke-width="1.1"/>
<text x="399.6" y="140.6" font-size="8.6" text-anchor="middle">40</text>
<line x1="424.4" y1="129.25" x2="424.4" y2="131.75" stroke="#231f20" stroke-width="1.1"/>
<text x="424.4" y="140.6" font-size="8.6" text-anchor="middle">60</text>
<line x1="449.2" y1="129.25" x2="449.2" y2="131.75" stroke="#231f20" stroke-width="1.1"/>
<text x="449.2" y="140.6" font-size="8.6" text-anchor="middle">80</text>
<text x="374.24" y="149.6" font-size="10" textLength="52.54" lengthAdjust="spacingAndGlyphs">Time (minutes)</text>
<line x1="368.3" y1="30" x2="368.3" y2="129" stroke="#2eae48" stroke-width="0.9" stroke-dasharray="1.1 1.1"/>
<line x1="392.5" y1="36" x2="392.5" y2="129" stroke="#2eae48" stroke-width="0.9" stroke-dasharray="1.1 1.1"/>
<line x1="417" y1="42.5" x2="417" y2="129" stroke="#2eae48" stroke-width="0.9" stroke-dasharray="1.1 1.1"/>
<text x="355.8" y="28" font-size="7" textLength="22.2" lengthAdjust="spacingAndGlyphs">glucose</text>
<text x="375.8" y="35" font-size="7" textLength="35.5" lengthAdjust="spacingAndGlyphs">Olygomycin</text>
<text x="410" y="41.3" font-size="7" textLength="15.7" lengthAdjust="spacingAndGlyphs">2-DG</text>
<polyline points="352.5,107.48 360,108.2 368,109.41 375.75,59.1 383.75,65.39 392,66.84 400.5,51.36 408.75,57.16 416.25,58.62 424.5,66.84 432.5,75.55 440.5,80.39" fill="none" stroke="#231f20" stroke-width="1.1" stroke-linejoin="round"/>
<line x1="352.5" y1="105.54" x2="352.5" y2="109.41" stroke="#231f20" stroke-width="0.8"/>
<line x1="351.3" y1="105.54" x2="353.7" y2="105.54" stroke="#231f20" stroke-width="0.8"/>
<line x1="351.3" y1="109.41" x2="353.7" y2="109.41" stroke="#231f20" stroke-width="0.8"/>
<line x1="360" y1="106.27" x2="360" y2="110.14" stroke="#231f20" stroke-width="0.8"/>
<line x1="358.8" y1="106.27" x2="361.2" y2="106.27" stroke="#231f20" stroke-width="0.8"/>
<line x1="358.8" y1="110.14" x2="361.2" y2="110.14" stroke="#231f20" stroke-width="0.8"/>
<line x1="368" y1="107.48" x2="368" y2="111.35" stroke="#231f20" stroke-width="0.8"/>
<line x1="366.8" y1="107.48" x2="369.2" y2="107.48" stroke="#231f20" stroke-width="0.8"/>
<line x1="366.8" y1="111.35" x2="369.2" y2="111.35" stroke="#231f20" stroke-width="0.8"/>
<line x1="375.75" y1="55.23" x2="375.75" y2="62.97" stroke="#231f20" stroke-width="0.8"/>
<line x1="374.55" y1="55.23" x2="376.95" y2="55.23" stroke="#231f20" stroke-width="0.8"/>
<line x1="374.55" y1="62.97" x2="376.95" y2="62.97" stroke="#231f20" stroke-width="0.8"/>
<line x1="383.75" y1="62.49" x2="383.75" y2="68.29" stroke="#231f20" stroke-width="0.8"/>
<line x1="382.55" y1="62.49" x2="384.95" y2="62.49" stroke="#231f20" stroke-width="0.8"/>
<line x1="382.55" y1="68.29" x2="384.95" y2="68.29" stroke="#231f20" stroke-width="0.8"/>
<line x1="392" y1="63.94" x2="392" y2="69.74" stroke="#231f20" stroke-width="0.8"/>
<line x1="390.8" y1="63.94" x2="393.2" y2="63.94" stroke="#231f20" stroke-width="0.8"/>
<line x1="390.8" y1="69.74" x2="393.2" y2="69.74" stroke="#231f20" stroke-width="0.8"/>
<line x1="400.5" y1="47.49" x2="400.5" y2="55.23" stroke="#231f20" stroke-width="0.8"/>
<line x1="399.3" y1="47.49" x2="401.7" y2="47.49" stroke="#231f20" stroke-width="0.8"/>
<line x1="399.3" y1="55.23" x2="401.7" y2="55.23" stroke="#231f20" stroke-width="0.8"/>
<line x1="408.75" y1="54.26" x2="408.75" y2="60.07" stroke="#231f20" stroke-width="0.8"/>
<line x1="407.55" y1="54.26" x2="409.95" y2="54.26" stroke="#231f20" stroke-width="0.8"/>
<line x1="407.55" y1="60.07" x2="409.95" y2="60.07" stroke="#231f20" stroke-width="0.8"/>
<line x1="416.25" y1="55.71" x2="416.25" y2="61.52" stroke="#231f20" stroke-width="0.8"/>
<line x1="415.05" y1="55.71" x2="417.45" y2="55.71" stroke="#231f20" stroke-width="0.8"/>
<line x1="415.05" y1="61.52" x2="417.45" y2="61.52" stroke="#231f20" stroke-width="0.8"/>
<line x1="424.5" y1="63.94" x2="424.5" y2="69.74" stroke="#231f20" stroke-width="0.8"/>
<line x1="423.3" y1="63.94" x2="425.7" y2="63.94" stroke="#231f20" stroke-width="0.8"/>
<line x1="423.3" y1="69.74" x2="425.7" y2="69.74" stroke="#231f20" stroke-width="0.8"/>
<line x1="432.5" y1="73.13" x2="432.5" y2="77.97" stroke="#231f20" stroke-width="0.8"/>
<line x1="431.3" y1="73.13" x2="433.7" y2="73.13" stroke="#231f20" stroke-width="0.8"/>
<line x1="431.3" y1="77.97" x2="433.7" y2="77.97" stroke="#231f20" stroke-width="0.8"/>
<line x1="440.5" y1="77.97" x2="440.5" y2="82.81" stroke="#231f20" stroke-width="0.8"/>
<line x1="439.3" y1="77.97" x2="441.7" y2="77.97" stroke="#231f20" stroke-width="0.8"/>
<line x1="439.3" y1="82.81" x2="441.7" y2="82.81" stroke="#231f20" stroke-width="0.8"/>
<polygon points="352.5,105.81 350.9,108.59 354.1,108.59" fill="#555" stroke="#231f20" stroke-width="0.9"/>
<polygon points="360,106.53 358.4,109.32 361.6,109.32" fill="#555" stroke="#231f20" stroke-width="0.9"/>
<polygon points="368,107.74 366.4,110.53 369.6,110.53" fill="#555" stroke="#231f20" stroke-width="0.9"/>
<polygon points="375.75,57.43 374.15,60.21 377.35,60.21" fill="#555" stroke="#231f20" stroke-width="0.9"/>
<polygon points="383.75,63.72 382.15,66.5 385.35,66.5" fill="#555" stroke="#231f20" stroke-width="0.9"/>
<polygon points="392,65.17 390.4,67.95 393.6,67.95" fill="#555" stroke="#231f20" stroke-width="0.9"/>
<polygon points="400.5,49.69 398.9,52.47 402.1,52.47" fill="#555" stroke="#231f20" stroke-width="0.9"/>
<polygon points="408.75,55.49 407.15,58.28 410.35,58.28" fill="#555" stroke="#231f20" stroke-width="0.9"/>
<polygon points="416.25,56.94 414.65,59.73 417.85,59.73" fill="#555" stroke="#231f20" stroke-width="0.9"/>
<polygon points="424.5,65.17 422.9,67.95 426.1,67.95" fill="#555" stroke="#231f20" stroke-width="0.9"/>
<polygon points="432.5,73.88 430.9,76.66 434.1,76.66" fill="#555" stroke="#231f20" stroke-width="0.9"/>
<polygon points="440.5,78.72 438.9,81.5 442.1,81.5" fill="#555" stroke="#231f20" stroke-width="0.9"/>
<polyline points="352.5,115.7 360,115.7 368,115.7 375.75,62.49 383.75,70.23 392,70.23 400.5,52.81 408.75,60.07 416.25,62.49 424.5,73.61 432.5,78.93 440.5,81.84" fill="none" stroke="#231f20" stroke-width="1.1" stroke-linejoin="round"/>
<line x1="352.5" y1="113.77" x2="352.5" y2="117.64" stroke="#231f20" stroke-width="0.8"/>
<line x1="351.3" y1="113.77" x2="353.7" y2="113.77" stroke="#231f20" stroke-width="0.8"/>
<line x1="351.3" y1="117.64" x2="353.7" y2="117.64" stroke="#231f20" stroke-width="0.8"/>
<line x1="360" y1="113.77" x2="360" y2="117.64" stroke="#231f20" stroke-width="0.8"/>
<line x1="358.8" y1="113.77" x2="361.2" y2="113.77" stroke="#231f20" stroke-width="0.8"/>
<line x1="358.8" y1="117.64" x2="361.2" y2="117.64" stroke="#231f20" stroke-width="0.8"/>
<line x1="368" y1="113.77" x2="368" y2="117.64" stroke="#231f20" stroke-width="0.8"/>
<line x1="366.8" y1="113.77" x2="369.2" y2="113.77" stroke="#231f20" stroke-width="0.8"/>
<line x1="366.8" y1="117.64" x2="369.2" y2="117.64" stroke="#231f20" stroke-width="0.8"/>
<line x1="375.75" y1="58.62" x2="375.75" y2="66.36" stroke="#231f20" stroke-width="0.8"/>
<line x1="374.55" y1="58.62" x2="376.95" y2="58.62" stroke="#231f20" stroke-width="0.8"/>
<line x1="374.55" y1="66.36" x2="376.95" y2="66.36" stroke="#231f20" stroke-width="0.8"/>
<line x1="383.75" y1="67.32" x2="383.75" y2="73.13" stroke="#231f20" stroke-width="0.8"/>
<line x1="382.55" y1="67.32" x2="384.95" y2="67.32" stroke="#231f20" stroke-width="0.8"/>
<line x1="382.55" y1="73.13" x2="384.95" y2="73.13" stroke="#231f20" stroke-width="0.8"/>
<line x1="392" y1="67.32" x2="392" y2="73.13" stroke="#231f20" stroke-width="0.8"/>
<line x1="390.8" y1="67.32" x2="393.2" y2="67.32" stroke="#231f20" stroke-width="0.8"/>
<line x1="390.8" y1="73.13" x2="393.2" y2="73.13" stroke="#231f20" stroke-width="0.8"/>
<line x1="400.5" y1="48.94" x2="400.5" y2="56.68" stroke="#231f20" stroke-width="0.8"/>
<line x1="399.3" y1="48.94" x2="401.7" y2="48.94" stroke="#231f20" stroke-width="0.8"/>
<line x1="399.3" y1="56.68" x2="401.7" y2="56.68" stroke="#231f20" stroke-width="0.8"/>
<line x1="408.75" y1="57.16" x2="408.75" y2="62.97" stroke="#231f20" stroke-width="0.8"/>
<line x1="407.55" y1="57.16" x2="409.95" y2="57.16" stroke="#231f20" stroke-width="0.8"/>
<line x1="407.55" y1="62.97" x2="409.95" y2="62.97" stroke="#231f20" stroke-width="0.8"/>
<line x1="416.25" y1="59.58" x2="416.25" y2="65.39" stroke="#231f20" stroke-width="0.8"/>
<line x1="415.05" y1="59.58" x2="417.45" y2="59.58" stroke="#231f20" stroke-width="0.8"/>
<line x1="415.05" y1="65.39" x2="417.45" y2="65.39" stroke="#231f20" stroke-width="0.8"/>
<line x1="424.5" y1="70.71" x2="424.5" y2="76.52" stroke="#231f20" stroke-width="0.8"/>
<line x1="423.3" y1="70.71" x2="425.7" y2="70.71" stroke="#231f20" stroke-width="0.8"/>
<line x1="423.3" y1="76.52" x2="425.7" y2="76.52" stroke="#231f20" stroke-width="0.8"/>
<line x1="432.5" y1="76.52" x2="432.5" y2="81.35" stroke="#231f20" stroke-width="0.8"/>
<line x1="431.3" y1="76.52" x2="433.7" y2="76.52" stroke="#231f20" stroke-width="0.8"/>
<line x1="431.3" y1="81.35" x2="433.7" y2="81.35" stroke="#231f20" stroke-width="0.8"/>
<line x1="440.5" y1="79.42" x2="440.5" y2="84.26" stroke="#231f20" stroke-width="0.8"/>
<line x1="439.3" y1="79.42" x2="441.7" y2="79.42" stroke="#231f20" stroke-width="0.8"/>
<line x1="439.3" y1="84.26" x2="441.7" y2="84.26" stroke="#231f20" stroke-width="0.8"/>
<polygon points="352.5,117.37 350.9,114.59 354.1,114.59" fill="#555" stroke="#231f20" stroke-width="0.9"/>
<polygon points="360,117.37 358.4,114.59 361.6,114.59" fill="#555" stroke="#231f20" stroke-width="0.9"/>
<polygon points="368,117.37 366.4,114.59 369.6,114.59" fill="#555" stroke="#231f20" stroke-width="0.9"/>
<polygon points="375.75,64.16 374.15,61.37 377.35,61.37" fill="#555" stroke="#231f20" stroke-width="0.9"/>
<polygon points="383.75,71.9 382.15,69.11 385.35,69.11" fill="#555" stroke="#231f20" stroke-width="0.9"/>
<polygon points="392,71.9 390.4,69.11 393.6,69.11" fill="#555" stroke="#231f20" stroke-width="0.9"/>
<polygon points="400.5,54.48 398.9,51.7 402.1,51.7" fill="#555" stroke="#231f20" stroke-width="0.9"/>
<polygon points="408.75,61.74 407.15,58.95 410.35,58.95" fill="#555" stroke="#231f20" stroke-width="0.9"/>
<polygon points="416.25,64.16 414.65,61.37 417.85,61.37" fill="#555" stroke="#231f20" stroke-width="0.9"/>
<polygon points="424.5,75.28 422.9,72.5 426.1,72.5" fill="#555" stroke="#231f20" stroke-width="0.9"/>
<polygon points="432.5,80.61 430.9,77.82 434.1,77.82" fill="#555" stroke="#231f20" stroke-width="0.9"/>
<polygon points="440.5,83.51 438.9,80.72 442.1,80.72" fill="#555" stroke="#231f20" stroke-width="0.9"/>
<polyline points="352.5,114.49 360,119.24 368,121.27 375.75,76.27 383.75,82.03 392,83.77 400.5,85.03 408.75,86.29 416.25,89.29 424.5,98.77 432.5,103.12 440.5,105.06" fill="none" stroke="#0c5189" stroke-width="1.1" stroke-linejoin="round"/>
<line x1="352.5" y1="112.56" x2="352.5" y2="116.43" stroke="#0c5189" stroke-width="0.8"/>
<line x1="351.3" y1="112.56" x2="353.7" y2="112.56" stroke="#0c5189" stroke-width="0.8"/>
<line x1="351.3" y1="116.43" x2="353.7" y2="116.43" stroke="#0c5189" stroke-width="0.8"/>
<line x1="360" y1="117.3" x2="360" y2="121.17" stroke="#0c5189" stroke-width="0.8"/>
<line x1="358.8" y1="117.3" x2="361.2" y2="117.3" stroke="#0c5189" stroke-width="0.8"/>
<line x1="358.8" y1="121.17" x2="361.2" y2="121.17" stroke="#0c5189" stroke-width="0.8"/>
<line x1="368" y1="119.33" x2="368" y2="123.2" stroke="#0c5189" stroke-width="0.8"/>
<line x1="366.8" y1="119.33" x2="369.2" y2="119.33" stroke="#0c5189" stroke-width="0.8"/>
<line x1="366.8" y1="123.2" x2="369.2" y2="123.2" stroke="#0c5189" stroke-width="0.8"/>
<line x1="375.75" y1="70.47" x2="375.75" y2="82.08" stroke="#0c5189" stroke-width="0.8"/>
<line x1="374.55" y1="70.47" x2="376.95" y2="70.47" stroke="#0c5189" stroke-width="0.8"/>
<line x1="374.55" y1="82.08" x2="376.95" y2="82.08" stroke="#0c5189" stroke-width="0.8"/>
<line x1="383.75" y1="79.13" x2="383.75" y2="84.93" stroke="#0c5189" stroke-width="0.8"/>
<line x1="382.55" y1="79.13" x2="384.95" y2="79.13" stroke="#0c5189" stroke-width="0.8"/>
<line x1="382.55" y1="84.93" x2="384.95" y2="84.93" stroke="#0c5189" stroke-width="0.8"/>
<line x1="392" y1="80.87" x2="392" y2="86.68" stroke="#0c5189" stroke-width="0.8"/>
<line x1="390.8" y1="80.87" x2="393.2" y2="80.87" stroke="#0c5189" stroke-width="0.8"/>
<line x1="390.8" y1="86.68" x2="393.2" y2="86.68" stroke="#0c5189" stroke-width="0.8"/>
<line x1="400.5" y1="81.16" x2="400.5" y2="88.9" stroke="#0c5189" stroke-width="0.8"/>
<line x1="399.3" y1="81.16" x2="401.7" y2="81.16" stroke="#0c5189" stroke-width="0.8"/>
<line x1="399.3" y1="88.9" x2="401.7" y2="88.9" stroke="#0c5189" stroke-width="0.8"/>
<line x1="408.75" y1="83.39" x2="408.75" y2="89.19" stroke="#0c5189" stroke-width="0.8"/>
<line x1="407.55" y1="83.39" x2="409.95" y2="83.39" stroke="#0c5189" stroke-width="0.8"/>
<line x1="407.55" y1="89.19" x2="409.95" y2="89.19" stroke="#0c5189" stroke-width="0.8"/>
<line x1="416.25" y1="86.87" x2="416.25" y2="91.71" stroke="#0c5189" stroke-width="0.8"/>
<line x1="415.05" y1="86.87" x2="417.45" y2="86.87" stroke="#0c5189" stroke-width="0.8"/>
<line x1="415.05" y1="91.71" x2="417.45" y2="91.71" stroke="#0c5189" stroke-width="0.8"/>
<line x1="424.5" y1="95.38" x2="424.5" y2="102.16" stroke="#0c5189" stroke-width="0.8"/>
<line x1="423.3" y1="95.38" x2="425.7" y2="95.38" stroke="#0c5189" stroke-width="0.8"/>
<line x1="423.3" y1="102.16" x2="425.7" y2="102.16" stroke="#0c5189" stroke-width="0.8"/>
<line x1="432.5" y1="100.71" x2="432.5" y2="105.54" stroke="#0c5189" stroke-width="0.8"/>
<line x1="431.3" y1="100.71" x2="433.7" y2="100.71" stroke="#0c5189" stroke-width="0.8"/>
<line x1="431.3" y1="105.54" x2="433.7" y2="105.54" stroke="#0c5189" stroke-width="0.8"/>
<line x1="440.5" y1="102.64" x2="440.5" y2="107.48" stroke="#0c5189" stroke-width="0.8"/>
<line x1="439.3" y1="102.64" x2="441.7" y2="102.64" stroke="#0c5189" stroke-width="0.8"/>
<line x1="439.3" y1="107.48" x2="441.7" y2="107.48" stroke="#0c5189" stroke-width="0.8"/>
<circle cx="352.5" cy="114.49" r="1.3" fill="#0c5189" stroke="none" stroke-width="0"/>
<circle cx="360" cy="119.24" r="1.3" fill="#0c5189" stroke="none" stroke-width="0"/>
<circle cx="368" cy="121.27" r="1.3" fill="#0c5189" stroke="none" stroke-width="0"/>
<circle cx="375.75" cy="76.27" r="1.3" fill="#0c5189" stroke="none" stroke-width="0"/>
<circle cx="383.75" cy="82.03" r="1.3" fill="#0c5189" stroke="none" stroke-width="0"/>
<circle cx="392" cy="83.77" r="1.3" fill="#0c5189" stroke="none" stroke-width="0"/>
<circle cx="400.5" cy="85.03" r="1.3" fill="#0c5189" stroke="none" stroke-width="0"/>
<circle cx="408.75" cy="86.29" r="1.3" fill="#0c5189" stroke="none" stroke-width="0"/>
<circle cx="416.25" cy="89.29" r="1.3" fill="#0c5189" stroke="none" stroke-width="0"/>
<circle cx="424.5" cy="98.77" r="1.3" fill="#0c5189" stroke="none" stroke-width="0"/>
<circle cx="432.5" cy="103.12" r="1.3" fill="#0c5189" stroke="none" stroke-width="0"/>
<circle cx="440.5" cy="105.06" r="1.3" fill="#0c5189" stroke="none" stroke-width="0"/>
<polyline points="352.5,113.77 360,114.49 368,114.49 375.75,81.35 383.75,83.05 392,83.77 400.5,59.1 408.75,66.36 416.25,69.74 424.5,81.35 432.5,88.13 440.5,91.76" fill="none" stroke="#c4172f" stroke-width="1.1" stroke-linejoin="round"/>
<line x1="352.5" y1="111.83" x2="352.5" y2="115.7" stroke="#c4172f" stroke-width="0.8"/>
<line x1="351.3" y1="111.83" x2="353.7" y2="111.83" stroke="#c4172f" stroke-width="0.8"/>
<line x1="351.3" y1="115.7" x2="353.7" y2="115.7" stroke="#c4172f" stroke-width="0.8"/>
<line x1="360" y1="112.56" x2="360" y2="116.43" stroke="#c4172f" stroke-width="0.8"/>
<line x1="358.8" y1="112.56" x2="361.2" y2="112.56" stroke="#c4172f" stroke-width="0.8"/>
<line x1="358.8" y1="116.43" x2="361.2" y2="116.43" stroke="#c4172f" stroke-width="0.8"/>
<line x1="368" y1="112.56" x2="368" y2="116.43" stroke="#c4172f" stroke-width="0.8"/>
<line x1="366.8" y1="112.56" x2="369.2" y2="112.56" stroke="#c4172f" stroke-width="0.8"/>
<line x1="366.8" y1="116.43" x2="369.2" y2="116.43" stroke="#c4172f" stroke-width="0.8"/>
<line x1="375.75" y1="77.48" x2="375.75" y2="85.22" stroke="#c4172f" stroke-width="0.8"/>
<line x1="374.55" y1="77.48" x2="376.95" y2="77.48" stroke="#c4172f" stroke-width="0.8"/>
<line x1="374.55" y1="85.22" x2="376.95" y2="85.22" stroke="#c4172f" stroke-width="0.8"/>
<line x1="383.75" y1="80.14" x2="383.75" y2="85.95" stroke="#c4172f" stroke-width="0.8"/>
<line x1="382.55" y1="80.14" x2="384.95" y2="80.14" stroke="#c4172f" stroke-width="0.8"/>
<line x1="382.55" y1="85.95" x2="384.95" y2="85.95" stroke="#c4172f" stroke-width="0.8"/>
<line x1="392" y1="80.87" x2="392" y2="86.68" stroke="#c4172f" stroke-width="0.8"/>
<line x1="390.8" y1="80.87" x2="393.2" y2="80.87" stroke="#c4172f" stroke-width="0.8"/>
<line x1="390.8" y1="86.68" x2="393.2" y2="86.68" stroke="#c4172f" stroke-width="0.8"/>
<line x1="400.5" y1="55.23" x2="400.5" y2="62.97" stroke="#c4172f" stroke-width="0.8"/>
<line x1="399.3" y1="55.23" x2="401.7" y2="55.23" stroke="#c4172f" stroke-width="0.8"/>
<line x1="399.3" y1="62.97" x2="401.7" y2="62.97" stroke="#c4172f" stroke-width="0.8"/>
<line x1="408.75" y1="63.45" x2="408.75" y2="69.26" stroke="#c4172f" stroke-width="0.8"/>
<line x1="407.55" y1="63.45" x2="409.95" y2="63.45" stroke="#c4172f" stroke-width="0.8"/>
<line x1="407.55" y1="69.26" x2="409.95" y2="69.26" stroke="#c4172f" stroke-width="0.8"/>
<line x1="416.25" y1="66.84" x2="416.25" y2="72.65" stroke="#c4172f" stroke-width="0.8"/>
<line x1="415.05" y1="66.84" x2="417.45" y2="66.84" stroke="#c4172f" stroke-width="0.8"/>
<line x1="415.05" y1="72.65" x2="417.45" y2="72.65" stroke="#c4172f" stroke-width="0.8"/>
<line x1="424.5" y1="78.45" x2="424.5" y2="84.26" stroke="#c4172f" stroke-width="0.8"/>
<line x1="423.3" y1="78.45" x2="425.7" y2="78.45" stroke="#c4172f" stroke-width="0.8"/>
<line x1="423.3" y1="84.26" x2="425.7" y2="84.26" stroke="#c4172f" stroke-width="0.8"/>
<line x1="432.5" y1="85.71" x2="432.5" y2="90.55" stroke="#c4172f" stroke-width="0.8"/>
<line x1="431.3" y1="85.71" x2="433.7" y2="85.71" stroke="#c4172f" stroke-width="0.8"/>
<line x1="431.3" y1="90.55" x2="433.7" y2="90.55" stroke="#c4172f" stroke-width="0.8"/>
<line x1="440.5" y1="89.34" x2="440.5" y2="94.17" stroke="#c4172f" stroke-width="0.8"/>
<line x1="439.3" y1="89.34" x2="441.7" y2="89.34" stroke="#c4172f" stroke-width="0.8"/>
<line x1="439.3" y1="94.17" x2="441.7" y2="94.17" stroke="#c4172f" stroke-width="0.8"/>
<rect x="351.2" y="112.47" width="2.6" height="2.6" fill="#c4172f"/>
<rect x="358.7" y="113.19" width="2.6" height="2.6" fill="#c4172f"/>
<rect x="366.7" y="113.19" width="2.6" height="2.6" fill="#c4172f"/>
<rect x="374.45" y="80.05" width="2.6" height="2.6" fill="#c4172f"/>
<rect x="382.45" y="81.75" width="2.6" height="2.6" fill="#c4172f"/>
<rect x="390.7" y="82.47" width="2.6" height="2.6" fill="#c4172f"/>
<rect x="399.2" y="57.8" width="2.6" height="2.6" fill="#c4172f"/>
<rect x="407.45" y="65.06" width="2.6" height="2.6" fill="#c4172f"/>
<rect x="414.95" y="68.44" width="2.6" height="2.6" fill="#c4172f"/>
<rect x="423.2" y="80.05" width="2.6" height="2.6" fill="#c4172f"/>
<rect x="431.2" y="86.83" width="2.6" height="2.6" fill="#c4172f"/>
<rect x="439.2" y="90.46" width="2.6" height="2.6" fill="#c4172f"/>
<line x1="368" y1="114.49" x2="372" y2="114.49" stroke="#c4172f" stroke-width="1.6"/>
<line x1="437" y1="33" x2="445.4" y2="33" stroke="#c4172f" stroke-width="1.1"/>
<rect x="440" y="31.8" width="2.4" height="2.4" fill="#c4172f"/>
<line x1="437" y1="42.7" x2="445.4" y2="42.7" stroke="#231f20" stroke-width="1.1"/>
<polygon points="441.2,44.27 439.7,41.66 442.7,41.66" fill="#fff" stroke="#231f20" stroke-width="0.9"/>
<line x1="437" y1="51.7" x2="445.4" y2="51.7" stroke="#231f20" stroke-width="1.1"/>
<polygon points="441.2,50.13 439.7,52.74 442.7,52.74" fill="#fff" stroke="#231f20" stroke-width="0.9"/>
<line x1="437" y1="61" x2="445.4" y2="61" stroke="#0c5189" stroke-width="1.1"/>
<circle cx="441.2" cy="61" r="1.3" fill="#0c5189" stroke="none" stroke-width="0"/>
<text x="448.46" y="35.6" font-size="7.2" textLength="17.75" lengthAdjust="spacingAndGlyphs">CTRL</text>
<text x="448.17" y="45.3" font-size="7.2" textLength="49.22" lengthAdjust="spacingAndGlyphs">MKO, Clone 1</text>
<text x="448.17" y="54.3" font-size="7.2" textLength="49.22" lengthAdjust="spacingAndGlyphs">MKO, Clone 2</text>
<text x="448.14" y="63.6" font-size="7.2" textLength="66.02" lengthAdjust="spacingAndGlyphs">MondoA Overexpr</text>
<text transform="translate(329.43 109.33) rotate(-90)" font-size="8.5" textLength="61.23" lengthAdjust="spacingAndGlyphs">ECAR (mpH/min)</text>
<text x="322.07" y="16.9" font-size="10.8" font-weight="bold" fill="#000" textLength="7.72" lengthAdjust="spacingAndGlyphs">C</text>
<text x="11.1" y="167.5" font-size="10.8" font-weight="bold" fill="#000" textLength="9.98" lengthAdjust="spacingAndGlyphs">D</text>
<line x1="40.8" y1="177.1" x2="40.8" y2="253.8" stroke="#231f20" stroke-width="1.1"/>
<line x1="38.3" y1="177.4" x2="40.8" y2="177.4" stroke="#231f20" stroke-width="1.1"/>
<text x="37" y="180.07" font-size="8.6" text-anchor="end">200</text>
<line x1="38.3" y1="196.38" x2="40.8" y2="196.38" stroke="#231f20" stroke-width="1.1"/>
<text x="37" y="199.04" font-size="8.6" text-anchor="end">150</text>
<line x1="38.3" y1="215.35" x2="40.8" y2="215.35" stroke="#231f20" stroke-width="1.1"/>
<text x="37" y="218.02" font-size="8.6" text-anchor="end">100</text>
<line x1="38.3" y1="234.33" x2="40.8" y2="234.33" stroke="#231f20" stroke-width="1.1"/>
<text x="37" y="236.99" font-size="8.6" text-anchor="end">50</text>
<line x1="38.3" y1="253.3" x2="40.8" y2="253.3" stroke="#231f20" stroke-width="1.1"/>
<text x="37" y="255.97" font-size="8.6" text-anchor="end">0</text>
<line x1="40.3" y1="253.3" x2="97.5" y2="253.3" stroke="#231f20" stroke-width="1.1"/>
<line x1="49.25" y1="240.02" x2="49.25" y2="238.12" stroke="#231f20" stroke-width="0.9"/>
<line x1="47.45" y1="238.12" x2="51.05" y2="238.12" stroke="#231f20" stroke-width="0.9"/>
<rect x="44.6" y="240.02" width="9.3" height="13.28" fill="#c4172f"/>
<line x1="49.25" y1="253.3" x2="49.25" y2="255.6" stroke="#231f20" stroke-width="1"/>
<text transform="translate(54.15 261.8) rotate(-45)" font-size="8.6" text-anchor="end">Ctrl</text>
<rect x="58.8" y="210.04" width="9.3" height="43.26" fill="#1f1b1c"/>
<line x1="63.45" y1="253.3" x2="63.45" y2="255.6" stroke="#231f20" stroke-width="1"/>
<text transform="translate(68.35 261.8) rotate(-45)" font-size="8.6" text-anchor="end">MKO1</text>
<rect x="72.5" y="203.59" width="9.5" height="49.71" fill="#1f1b1c"/>
<line x1="77.25" y1="253.3" x2="77.25" y2="255.6" stroke="#231f20" stroke-width="1"/>
<text transform="translate(82.15 261.8) rotate(-45)" font-size="8.6" text-anchor="end">MKO2</text>
<line x1="91.05" y1="246.85" x2="91.05" y2="246.09" stroke="#231f20" stroke-width="0.9"/>
<line x1="89.25" y1="246.09" x2="92.85" y2="246.09" stroke="#231f20" stroke-width="0.9"/>
<rect x="86.3" y="246.85" width="9.5" height="6.45" fill="#0c5189"/>
<line x1="91.05" y1="253.3" x2="91.05" y2="255.6" stroke="#231f20" stroke-width="1"/>
<text transform="translate(95.95 261.8) rotate(-45)" font-size="8.6" text-anchor="end">Overexpr</text>
<text transform="translate(18.53 247.65) rotate(-90)" font-size="8.2" textLength="65.26" lengthAdjust="spacingAndGlyphs">OCR (pmoles/min)</text>
<line x1="47.5" y1="178" x2="90" y2="178" stroke="#231f20" stroke-width="0.85"/>
<line x1="47.5" y1="176.1" x2="47.5" y2="179.9" stroke="#231f20" stroke-width="0.85"/>
<line x1="90" y1="176.1" x2="90" y2="179.9" stroke="#231f20" stroke-width="0.85"/>
<text x="69.5" y="178.72" font-size="8.2" text-anchor="middle">*</text>
<line x1="47.5" y1="188.8" x2="76.3" y2="188.8" stroke="#231f20" stroke-width="0.85"/>
<line x1="47.5" y1="186.9" x2="47.5" y2="190.7" stroke="#231f20" stroke-width="0.85"/>
<line x1="76.3" y1="186.9" x2="76.3" y2="190.7" stroke="#231f20" stroke-width="0.85"/>
<text x="61.5" y="189.42" font-size="8.2" text-anchor="middle">***</text>
<line x1="47.5" y1="203" x2="64.5" y2="203" stroke="#231f20" stroke-width="0.85"/>
<line x1="47.5" y1="201.1" x2="47.5" y2="204.9" stroke="#231f20" stroke-width="0.85"/>
<line x1="64.5" y1="201.1" x2="64.5" y2="204.9" stroke="#231f20" stroke-width="0.85"/>
<text x="56" y="203.42" font-size="8.2" text-anchor="middle">***</text>
<text x="112.25" y="167.5" font-size="10.8" font-weight="bold" fill="#000" textLength="7.67" lengthAdjust="spacingAndGlyphs">E</text>
<line x1="144.4" y1="178.2" x2="144.4" y2="253.8" stroke="#231f20" stroke-width="1.1"/>
<line x1="141.9" y1="178.5" x2="144.4" y2="178.5" stroke="#231f20" stroke-width="1.1"/>
<text x="140.2" y="181.17" font-size="8.6" text-anchor="end">100</text>
<line x1="141.9" y1="193.46" x2="144.4" y2="193.46" stroke="#231f20" stroke-width="1.1"/>
<text x="140.2" y="196.13" font-size="8.6" text-anchor="end">80</text>
<line x1="141.9" y1="208.42" x2="144.4" y2="208.42" stroke="#231f20" stroke-width="1.1"/>
<text x="140.2" y="211.09" font-size="8.6" text-anchor="end">60</text>
<line x1="141.9" y1="223.38" x2="144.4" y2="223.38" stroke="#231f20" stroke-width="1.1"/>
<text x="140.2" y="226.05" font-size="8.6" text-anchor="end">40</text>
<line x1="141.9" y1="238.34" x2="144.4" y2="238.34" stroke="#231f20" stroke-width="1.1"/>
<text x="140.2" y="241.01" font-size="8.6" text-anchor="end">20</text>
<line x1="141.9" y1="253.3" x2="144.4" y2="253.3" stroke="#231f20" stroke-width="1.1"/>
<text x="140.2" y="255.97" font-size="8.6" text-anchor="end">0</text>
<line x1="143.9" y1="253.3" x2="199" y2="253.3" stroke="#231f20" stroke-width="1.1"/>
<line x1="150.3" y1="231.83" x2="150.3" y2="229.36" stroke="#231f20" stroke-width="0.9"/>
<line x1="148.5" y1="229.36" x2="152.1" y2="229.36" stroke="#231f20" stroke-width="0.9"/>
<rect x="145.6" y="231.83" width="9.4" height="21.47" fill="#c4172f"/>
<line x1="150.3" y1="253.3" x2="150.3" y2="255.6" stroke="#231f20" stroke-width="1"/>
<text transform="translate(155.2 261.8) rotate(-45)" font-size="8.6" text-anchor="end">Ctrl</text>
<line x1="164.2" y1="208.64" x2="164.2" y2="206.77" stroke="#231f20" stroke-width="0.9"/>
<line x1="162.4" y1="206.77" x2="166" y2="206.77" stroke="#231f20" stroke-width="0.9"/>
<rect x="159.6" y="208.64" width="9.2" height="44.66" fill="#1f1b1c"/>
<line x1="164.2" y1="253.3" x2="164.2" y2="255.6" stroke="#231f20" stroke-width="1"/>
<text transform="translate(169.1 261.8) rotate(-45)" font-size="8.6" text-anchor="end">MKO1</text>
<line x1="177.9" y1="208.64" x2="177.9" y2="208.05" stroke="#231f20" stroke-width="0.9"/>
<line x1="176.1" y1="208.05" x2="179.7" y2="208.05" stroke="#231f20" stroke-width="0.9"/>
<rect x="173.3" y="208.64" width="9.2" height="44.66" fill="#1f1b1c"/>
<line x1="177.9" y1="253.3" x2="177.9" y2="255.6" stroke="#231f20" stroke-width="1"/>
<text transform="translate(182.8 261.8) rotate(-45)" font-size="8.6" text-anchor="end">MKO2</text>
<line x1="192" y1="249.93" x2="192" y2="249.04" stroke="#231f20" stroke-width="0.9"/>
<line x1="190.2" y1="249.04" x2="193.8" y2="249.04" stroke="#231f20" stroke-width="0.9"/>
<rect x="187" y="249.93" width="10" height="3.37" fill="#0c5189"/>
<line x1="192" y1="253.3" x2="192" y2="255.6" stroke="#231f20" stroke-width="1"/>
<text transform="translate(196.9 261.8) rotate(-45)" font-size="8.6" text-anchor="end">Overexpr</text>
<text transform="translate(120.43 247.65) rotate(-90)" font-size="8.2" textLength="65.26" lengthAdjust="spacingAndGlyphs">OCR (pmoles/min)</text>
<line x1="147.5" y1="179.3" x2="188.8" y2="179.3" stroke="#231f20" stroke-width="0.85"/>
<line x1="147.5" y1="177.4" x2="147.5" y2="181.2" stroke="#231f20" stroke-width="0.85"/>
<line x1="188.8" y1="177.4" x2="188.8" y2="181.2" stroke="#231f20" stroke-width="0.85"/>
<text x="167.5" y="179.92" font-size="8.2" text-anchor="middle">***</text>
<line x1="147.5" y1="189.3" x2="175" y2="189.3" stroke="#231f20" stroke-width="0.85"/>
<line x1="147.5" y1="187.4" x2="147.5" y2="191.2" stroke="#231f20" stroke-width="0.85"/>
<line x1="175" y1="187.4" x2="175" y2="191.2" stroke="#231f20" stroke-width="0.85"/>
<text x="161.3" y="190.42" font-size="8.2" text-anchor="middle">***</text>
<line x1="147.5" y1="201.8" x2="163" y2="201.8" stroke="#231f20" stroke-width="0.85"/>
<line x1="147.5" y1="199.9" x2="147.5" y2="203.7" stroke="#231f20" stroke-width="0.85"/>
<line x1="163" y1="199.9" x2="163" y2="203.7" stroke="#231f20" stroke-width="0.85"/>
<text x="155.5" y="202.22" font-size="8.2" text-anchor="middle">***</text>
<text x="213.02" y="167.5" font-size="10.8" font-weight="bold" fill="#000" textLength="6.89" lengthAdjust="spacingAndGlyphs">F</text>
<line x1="245" y1="178.2" x2="245" y2="253.8" stroke="#231f20" stroke-width="1.1"/>
<line x1="242.5" y1="178.5" x2="245" y2="178.5" stroke="#231f20" stroke-width="1.1"/>
<text x="240.5" y="181.17" font-size="8.6" text-anchor="end">100</text>
<line x1="242.5" y1="193.46" x2="245" y2="193.46" stroke="#231f20" stroke-width="1.1"/>
<text x="240.5" y="196.13" font-size="8.6" text-anchor="end">80</text>
<line x1="242.5" y1="208.42" x2="245" y2="208.42" stroke="#231f20" stroke-width="1.1"/>
<text x="240.5" y="211.09" font-size="8.6" text-anchor="end">60</text>
<line x1="242.5" y1="223.38" x2="245" y2="223.38" stroke="#231f20" stroke-width="1.1"/>
<text x="240.5" y="226.05" font-size="8.6" text-anchor="end">40</text>
<line x1="242.5" y1="238.34" x2="245" y2="238.34" stroke="#231f20" stroke-width="1.1"/>
<text x="240.5" y="241.01" font-size="8.6" text-anchor="end">20</text>
<line x1="242.5" y1="253.3" x2="245" y2="253.3" stroke="#231f20" stroke-width="1.1"/>
<text x="240.5" y="255.97" font-size="8.6" text-anchor="end">0</text>
<line x1="244.5" y1="253.3" x2="299.5" y2="253.3" stroke="#231f20" stroke-width="1.1"/>
<line x1="250.9" y1="236.1" x2="250.9" y2="232.36" stroke="#231f20" stroke-width="0.9"/>
<line x1="249.1" y1="232.36" x2="252.7" y2="232.36" stroke="#231f20" stroke-width="0.9"/>
<rect x="246.3" y="236.1" width="9.2" height="17.2" fill="#c4172f"/>
<line x1="250.9" y1="253.3" x2="250.9" y2="255.6" stroke="#231f20" stroke-width="1"/>
<text transform="translate(255.8 261.8) rotate(-45)" font-size="8.6" text-anchor="end">Ctrl</text>
<line x1="265" y1="212.16" x2="265" y2="203.18" stroke="#231f20" stroke-width="0.9"/>
<line x1="263.2" y1="203.18" x2="266.8" y2="203.18" stroke="#231f20" stroke-width="0.9"/>
<rect x="260.5" y="212.16" width="9" height="41.14" fill="#1f1b1c"/>
<line x1="265" y1="253.3" x2="265" y2="255.6" stroke="#231f20" stroke-width="1"/>
<text transform="translate(269.9 261.8) rotate(-45)" font-size="8.6" text-anchor="end">MKO1</text>
<line x1="279.05" y1="198.7" x2="279.05" y2="191.22" stroke="#231f20" stroke-width="0.9"/>
<line x1="277.25" y1="191.22" x2="280.85" y2="191.22" stroke="#231f20" stroke-width="0.9"/>
<rect x="274.3" y="198.7" width="9.5" height="54.6" fill="#1f1b1c"/>
<line x1="279.05" y1="253.3" x2="279.05" y2="255.6" stroke="#231f20" stroke-width="1"/>
<text transform="translate(283.95 261.8) rotate(-45)" font-size="8.6" text-anchor="end">MKO2</text>
<line x1="292.75" y1="233.48" x2="292.75" y2="230.11" stroke="#231f20" stroke-width="0.9"/>
<line x1="290.95" y1="230.11" x2="294.55" y2="230.11" stroke="#231f20" stroke-width="0.9"/>
<rect x="288" y="233.48" width="9.5" height="19.82" fill="#0c5189"/>
<line x1="292.75" y1="253.3" x2="292.75" y2="255.6" stroke="#231f20" stroke-width="1"/>
<text transform="translate(297.65 261.8) rotate(-45)" font-size="8.6" text-anchor="end">Overexpr</text>
<text transform="translate(220.43 247.65) rotate(-90)" font-size="8.2" textLength="65.26" lengthAdjust="spacingAndGlyphs">OCR (pmoles/min)</text>
<line x1="248.8" y1="177" x2="290" y2="177" stroke="#231f20" stroke-width="0.85"/>
<line x1="248.8" y1="175.1" x2="248.8" y2="178.9" stroke="#231f20" stroke-width="0.85"/>
<line x1="290" y1="175.1" x2="290" y2="178.9" stroke="#231f20" stroke-width="0.85"/>
<text x="270.8" y="175.2" font-size="7.4" text-anchor="middle">ns</text>
<line x1="248.8" y1="186.8" x2="277" y2="186.8" stroke="#231f20" stroke-width="0.85"/>
<line x1="248.8" y1="184.9" x2="248.8" y2="188.7" stroke="#231f20" stroke-width="0.85"/>
<line x1="277" y1="184.9" x2="277" y2="188.7" stroke="#231f20" stroke-width="0.85"/>
<text x="263.8" y="187.52" font-size="8.2" text-anchor="middle">**</text>
<line x1="248.8" y1="200.5" x2="265" y2="200.5" stroke="#231f20" stroke-width="0.85"/>
<line x1="248.8" y1="198.6" x2="248.8" y2="202.4" stroke="#231f20" stroke-width="0.85"/>
<line x1="265" y1="198.6" x2="265" y2="202.4" stroke="#231f20" stroke-width="0.85"/>
<text x="257.5" y="201.02" font-size="8.2" text-anchor="middle">*</text>
<text x="314" y="167.5" font-size="10.8" font-weight="bold" fill="#000" textLength="9.79" lengthAdjust="spacingAndGlyphs">G</text>
<line x1="345" y1="181" x2="345" y2="253.8" stroke="#231f20" stroke-width="1.1"/>
<line x1="342.5" y1="181.3" x2="345" y2="181.3" stroke="#231f20" stroke-width="1.1"/>
<text x="340.3" y="183.97" font-size="8.6" text-anchor="end">150</text>
<line x1="342.5" y1="205.3" x2="345" y2="205.3" stroke="#231f20" stroke-width="1.1"/>
<text x="340.3" y="207.97" font-size="8.6" text-anchor="end">100</text>
<line x1="342.5" y1="229.3" x2="345" y2="229.3" stroke="#231f20" stroke-width="1.1"/>
<text x="340.3" y="231.97" font-size="8.6" text-anchor="end">50</text>
<line x1="342.5" y1="253.3" x2="345" y2="253.3" stroke="#231f20" stroke-width="1.1"/>
<text x="340.3" y="255.97" font-size="8.6" text-anchor="end">0</text>
<line x1="344.5" y1="253.3" x2="401" y2="253.3" stroke="#231f20" stroke-width="1.1"/>
<line x1="351.65" y1="221.14" x2="351.65" y2="218.74" stroke="#231f20" stroke-width="0.9"/>
<line x1="349.85" y1="218.74" x2="353.45" y2="218.74" stroke="#231f20" stroke-width="0.9"/>
<rect x="347" y="221.14" width="9.3" height="32.16" fill="#c4172f"/>
<line x1="351.65" y1="253.3" x2="351.65" y2="255.6" stroke="#231f20" stroke-width="1"/>
<text transform="translate(356.55 261.8) rotate(-45)" font-size="8.6" text-anchor="end">Ctrl</text>
<line x1="365.9" y1="204.34" x2="365.9" y2="203.14" stroke="#231f20" stroke-width="0.9"/>
<line x1="364.1" y1="203.14" x2="367.7" y2="203.14" stroke="#231f20" stroke-width="0.9"/>
<rect x="361.3" y="204.34" width="9.2" height="48.96" fill="#1f1b1c"/>
<line x1="365.9" y1="253.3" x2="365.9" y2="255.6" stroke="#231f20" stroke-width="1"/>
<text transform="translate(370.8 261.8) rotate(-45)" font-size="8.6" text-anchor="end">MKO1</text>
<line x1="379.75" y1="209.14" x2="379.75" y2="208.18" stroke="#231f20" stroke-width="0.9"/>
<line x1="377.95" y1="208.18" x2="381.55" y2="208.18" stroke="#231f20" stroke-width="0.9"/>
<rect x="375" y="209.14" width="9.5" height="44.16" fill="#1f1b1c"/>
<line x1="379.75" y1="253.3" x2="379.75" y2="255.6" stroke="#231f20" stroke-width="1"/>
<text transform="translate(384.65 261.8) rotate(-45)" font-size="8.6" text-anchor="end">MKO2</text>
<line x1="393.8" y1="215.62" x2="393.8" y2="214.18" stroke="#231f20" stroke-width="0.9"/>
<line x1="392" y1="214.18" x2="395.6" y2="214.18" stroke="#231f20" stroke-width="0.9"/>
<rect x="388.8" y="215.62" width="10" height="37.68" fill="#0c5189"/>
<line x1="393.8" y1="253.3" x2="393.8" y2="255.6" stroke="#231f20" stroke-width="1"/>
<text transform="translate(398.7 261.8) rotate(-45)" font-size="8.6" text-anchor="end">Overexpr</text>
<text transform="translate(322.23 249.95) rotate(-90)" font-size="8.2" textLength="65.06" lengthAdjust="spacingAndGlyphs">OCR (pmoles/min)</text>
<line x1="349.5" y1="178" x2="388.8" y2="178" stroke="#231f20" stroke-width="0.85"/>
<line x1="349.5" y1="176.1" x2="349.5" y2="179.9" stroke="#231f20" stroke-width="0.85"/>
<line x1="388.8" y1="176.1" x2="388.8" y2="179.9" stroke="#231f20" stroke-width="0.85"/>
<text x="370" y="176" font-size="7.4" text-anchor="middle">ns</text>
<line x1="349.5" y1="187.5" x2="375.5" y2="187.5" stroke="#231f20" stroke-width="0.85"/>
<line x1="349.5" y1="185.6" x2="349.5" y2="189.4" stroke="#231f20" stroke-width="0.85"/>
<line x1="375.5" y1="185.6" x2="375.5" y2="189.4" stroke="#231f20" stroke-width="0.85"/>
<text x="362.5" y="188.02" font-size="8.2" text-anchor="middle">***</text>
<line x1="349.5" y1="197.5" x2="364.5" y2="197.5" stroke="#231f20" stroke-width="0.85"/>
<line x1="349.5" y1="195.6" x2="349.5" y2="199.4" stroke="#231f20" stroke-width="0.85"/>
<line x1="364.5" y1="195.6" x2="364.5" y2="199.4" stroke="#231f20" stroke-width="0.85"/>
<text x="357" y="198.02" font-size="8.2" text-anchor="middle">***</text>
<text x="429.12" y="166.5" font-size="10.8" font-weight="bold" fill="#000" textLength="9.79" lengthAdjust="spacingAndGlyphs">H</text>
<text x="460.49" y="176.2" font-size="7.6" textLength="41.34" lengthAdjust="spacingAndGlyphs">glucose13C</text>
<line x1="458.6" y1="183.2" x2="458.6" y2="247.8" stroke="#231f20" stroke-width="1.1"/>
<line x1="458.6" y1="183.2" x2="501.8" y2="183.2" stroke="#231f20" stroke-width="1.1"/>
<line x1="458.1" y1="247.8" x2="501.8" y2="247.8" stroke="#231f20" stroke-width="1.1"/>
<line x1="456.3" y1="183.2" x2="458.6" y2="183.2" stroke="#231f20" stroke-width="1"/>
<text x="455.4" y="185.4" font-size="6.1" text-anchor="end">0</text>
<line x1="456.3" y1="196.1" x2="458.6" y2="196.1" stroke="#231f20" stroke-width="1"/>
<text x="455.4" y="198.3" font-size="6.1" text-anchor="end">-20</text>
<line x1="456.3" y1="209" x2="458.6" y2="209" stroke="#231f20" stroke-width="1"/>
<text x="455.4" y="211.2" font-size="6.1" text-anchor="end">-40</text>
<line x1="456.3" y1="221.9" x2="458.6" y2="221.9" stroke="#231f20" stroke-width="1"/>
<text x="455.4" y="224.1" font-size="6.1" text-anchor="end">-60</text>
<line x1="456.3" y1="234.8" x2="458.6" y2="234.8" stroke="#231f20" stroke-width="1"/>
<text x="455.4" y="237" font-size="6.1" text-anchor="end">-80</text>
<line x1="456.3" y1="247.7" x2="458.6" y2="247.7" stroke="#231f20" stroke-width="1"/>
<text x="455.4" y="249.9" font-size="6.1" text-anchor="end">-100</text>
<line x1="462.6" y1="216.74" x2="462.6" y2="219.96" stroke="#231f20" stroke-width="0.8"/>
<line x1="461.4" y1="219.96" x2="463.8" y2="219.96" stroke="#231f20" stroke-width="0.8"/>
<rect x="461" y="183.2" width="3.2" height="33.54" fill="#c4172f"/>
<line x1="462.6" y1="247.8" x2="462.6" y2="250" stroke="#231f20" stroke-width="0.9"/>
<line x1="471.5" y1="210.61" x2="471.5" y2="211.9" stroke="#231f20" stroke-width="0.8"/>
<line x1="470.3" y1="211.9" x2="472.7" y2="211.9" stroke="#231f20" stroke-width="0.8"/>
<rect x="469.9" y="183.2" width="3.2" height="27.41" fill="#c4172f"/>
<line x1="471.5" y1="247.8" x2="471.5" y2="250" stroke="#231f20" stroke-width="0.9"/>
<line x1="480.3" y1="223.51" x2="480.3" y2="224.16" stroke="#231f20" stroke-width="0.8"/>
<line x1="479.1" y1="224.16" x2="481.5" y2="224.16" stroke="#231f20" stroke-width="0.8"/>
<rect x="478.7" y="183.2" width="3.2" height="40.31" fill="#0c5189"/>
<line x1="480.3" y1="247.8" x2="480.3" y2="250" stroke="#231f20" stroke-width="0.9"/>
<line x1="489.2" y1="236.09" x2="489.2" y2="237.06" stroke="#231f20" stroke-width="0.8"/>
<line x1="488" y1="237.06" x2="490.4" y2="237.06" stroke="#231f20" stroke-width="0.8"/>
<rect x="487.6" y="183.2" width="3.2" height="52.89" fill="#1f1b1c"/>
<line x1="489.2" y1="247.8" x2="489.2" y2="250" stroke="#231f20" stroke-width="0.9"/>
<line x1="498.4" y1="235.32" x2="498.4" y2="236.28" stroke="#231f20" stroke-width="0.8"/>
<line x1="497.2" y1="236.28" x2="499.6" y2="236.28" stroke="#231f20" stroke-width="0.8"/>
<rect x="496.8" y="183.2" width="3.2" height="52.12" fill="#1f1b1c"/>
<line x1="498.4" y1="247.8" x2="498.4" y2="250" stroke="#231f20" stroke-width="0.9"/>
<text x="477.07" y="230.41" font-size="7.4" textLength="7.44" lengthAdjust="spacingAndGlyphs">***</text>
<text x="482.85" y="243.01" font-size="7.4" textLength="11.92" lengthAdjust="spacingAndGlyphs">****</text>
<text x="493.65" y="245.81" font-size="7.4" textLength="11.92" lengthAdjust="spacingAndGlyphs">****</text>
<text transform="translate(431.58 242) rotate(-90)" font-size="6.9" textLength="51.27" lengthAdjust="spacingAndGlyphs">Consumed glucose</text>
<text transform="translate(439.98 254.18) rotate(-90)" font-size="6.9" textLength="75.76" lengthAdjust="spacingAndGlyphs">(normalized to cell number)</text>
<text x="461.17" y="265.6" font-size="7.8" textLength="37.14" lengthAdjust="spacingAndGlyphs">Lactic acid</text>
<line x1="458.2" y1="272.9" x2="458.2" y2="333.9" stroke="#231f20" stroke-width="1.1"/>
<line x1="457.7" y1="333.9" x2="501" y2="333.9" stroke="#231f20" stroke-width="1.1"/>
<line x1="455.9" y1="272.9" x2="458.2" y2="272.9" stroke="#231f20" stroke-width="1"/>
<text x="455.4" y="275.2" font-size="6.4" text-anchor="end">20</text>
<line x1="455.9" y1="288.15" x2="458.2" y2="288.15" stroke="#231f20" stroke-width="1"/>
<text x="455.4" y="290.45" font-size="6.4" text-anchor="end">15</text>
<line x1="455.9" y1="303.4" x2="458.2" y2="303.4" stroke="#231f20" stroke-width="1"/>
<text x="455.4" y="305.7" font-size="6.4" text-anchor="end">10</text>
<line x1="455.9" y1="318.65" x2="458.2" y2="318.65" stroke="#231f20" stroke-width="1"/>
<text x="455.4" y="320.95" font-size="6.4" text-anchor="end">5</text>
<line x1="455.9" y1="333.9" x2="458.2" y2="333.9" stroke="#231f20" stroke-width="1"/>
<text x="455.4" y="336.2" font-size="6.4" text-anchor="end">0</text>
<line x1="462.5" y1="294.25" x2="462.5" y2="289.67" stroke="#231f20" stroke-width="0.8"/>
<line x1="461.3" y1="289.67" x2="463.7" y2="289.67" stroke="#231f20" stroke-width="0.8"/>
<rect x="460.7" y="294.25" width="3.6" height="39.65" fill="#c4172f"/>
<line x1="462.5" y1="333.9" x2="462.5" y2="336.2" stroke="#231f20" stroke-width="0.9"/>
<line x1="471.3" y1="296.69" x2="471.3" y2="295.47" stroke="#231f20" stroke-width="0.8"/>
<line x1="470.1" y1="295.47" x2="472.5" y2="295.47" stroke="#231f20" stroke-width="0.8"/>
<rect x="469.5" y="296.69" width="3.6" height="37.21" fill="#c4172f"/>
<line x1="471.3" y1="333.9" x2="471.3" y2="336.2" stroke="#231f20" stroke-width="0.9"/>
<line x1="480.4" y1="280.22" x2="480.4" y2="279.61" stroke="#231f20" stroke-width="0.8"/>
<line x1="479.2" y1="279.61" x2="481.6" y2="279.61" stroke="#231f20" stroke-width="0.8"/>
<rect x="478.6" y="280.22" width="3.6" height="53.68" fill="#0c5189"/>
<line x1="480.4" y1="333.9" x2="480.4" y2="336.2" stroke="#231f20" stroke-width="0.9"/>
<line x1="489.3" y1="277.17" x2="489.3" y2="275.95" stroke="#231f20" stroke-width="0.8"/>
<line x1="488.1" y1="275.95" x2="490.5" y2="275.95" stroke="#231f20" stroke-width="0.8"/>
<rect x="487.5" y="277.17" width="3.6" height="56.73" fill="#1f1b1c"/>
<line x1="489.3" y1="333.9" x2="489.3" y2="336.2" stroke="#231f20" stroke-width="0.9"/>
<line x1="498.4" y1="275.95" x2="498.4" y2="274.42" stroke="#231f20" stroke-width="0.8"/>
<line x1="497.2" y1="274.42" x2="499.6" y2="274.42" stroke="#231f20" stroke-width="0.8"/>
<rect x="496.6" y="275.95" width="3.6" height="57.95" fill="#1f1b1c"/>
<line x1="498.4" y1="333.9" x2="498.4" y2="336.2" stroke="#231f20" stroke-width="0.9"/>
<text x="472.85" y="279.61" font-size="7.4" textLength="11.3" lengthAdjust="spacingAndGlyphs">****</text>
<text x="485.86" y="273.31" font-size="7.4" textLength="10.99" lengthAdjust="spacingAndGlyphs">****</text>
<text x="495.55" y="276.01" font-size="7.4" textLength="11.51" lengthAdjust="spacingAndGlyphs">****</text>
<text transform="translate(437.81 322.47) rotate(-90)" font-size="7" textLength="43.35" lengthAdjust="spacingAndGlyphs">Secreted lactate</text>
<text transform="translate(446.02 338.37) rotate(-90)" font-size="7" textLength="75.66" lengthAdjust="spacingAndGlyphs">(normalized to cell number)</text>
<rect x="447.3" y="345.2" width="7.3" height="3.4" fill="#c4172f"/>
<text x="458.71" y="349.5" font-size="7.3" textLength="14.97" lengthAdjust="spacingAndGlyphs">CTRL</text>
<rect x="447.3" y="353.7" width="7.3" height="3.4" fill="#c4172f"/>
<text x="458.71" y="358" font-size="7.3" textLength="14.97" lengthAdjust="spacingAndGlyphs">CTRL</text>
<rect x="447.3" y="362.5" width="7.3" height="3.4" fill="#0c5189"/>
<text x="458.44" y="366.8" font-size="7.3" textLength="56.3" lengthAdjust="spacingAndGlyphs">MondoA Overexpr</text>
<rect x="447.3" y="371" width="7.3" height="3.4" fill="#1f1b1c"/>
<text x="458.46" y="375.3" font-size="7.3" textLength="42.28" lengthAdjust="spacingAndGlyphs">MKO, Clone 1</text>
<rect x="447.3" y="379.6" width="7.3" height="3.4" fill="#1f1b1c"/>
<text x="458.46" y="383.9" font-size="7.3" textLength="42.28" lengthAdjust="spacingAndGlyphs">MKO, Clone 2</text>
<text x="12.63" y="301.2" font-size="10.8" font-weight="bold" fill="#000" textLength="4.79" lengthAdjust="spacingAndGlyphs">I</text>
<line x1="32.1" y1="314.49" x2="32.1" y2="444.5" stroke="#231f20" stroke-width="1.1"/>
<line x1="29.6" y1="314.79" x2="32.1" y2="314.79" stroke="#231f20" stroke-width="1.1"/>
<text x="27.6" y="317.39" font-size="7.2" text-anchor="end">4</text>
<line x1="29.6" y1="357.86" x2="32.1" y2="357.86" stroke="#231f20" stroke-width="1.1"/>
<text x="27.6" y="360.46" font-size="7.2" text-anchor="end">3</text>
<line x1="29.6" y1="400.93" x2="32.1" y2="400.93" stroke="#231f20" stroke-width="1.1"/>
<text x="27.6" y="403.53" font-size="7.2" text-anchor="end">2</text>
<line x1="29.6" y1="444" x2="32.1" y2="444" stroke="#231f20" stroke-width="1.1"/>
<text x="27.6" y="446.6" font-size="7.2" text-anchor="end">1</text>
<line x1="31.6" y1="444.3" x2="106.5" y2="444.3" stroke="#231f20" stroke-width="1.1"/>
<line x1="32.2" y1="444.3" x2="32.2" y2="446.8" stroke="#231f20" stroke-width="1.1"/>
<text x="32.2" y="454" font-size="7.6" text-anchor="middle">0</text>
<line x1="56.85" y1="444.3" x2="56.85" y2="446.8" stroke="#231f20" stroke-width="1.1"/>
<text x="56.85" y="454" font-size="7.6" text-anchor="middle">5</text>
<line x1="81.5" y1="444.3" x2="81.5" y2="446.8" stroke="#231f20" stroke-width="1.1"/>
<text x="81.5" y="454" font-size="7.6" text-anchor="middle">10</text>
<line x1="106.15" y1="444.3" x2="106.15" y2="446.8" stroke="#231f20" stroke-width="1.1"/>
<text x="106.15" y="454" font-size="7.6" text-anchor="middle">15</text>
<line x1="37.13" y1="444.3" x2="37.13" y2="445.8" stroke="#231f20" stroke-width="0.8"/>
<line x1="42.06" y1="444.3" x2="42.06" y2="445.8" stroke="#231f20" stroke-width="0.8"/>
<line x1="46.99" y1="444.3" x2="46.99" y2="445.8" stroke="#231f20" stroke-width="0.8"/>
<line x1="51.92" y1="444.3" x2="51.92" y2="445.8" stroke="#231f20" stroke-width="0.8"/>
<line x1="61.78" y1="444.3" x2="61.78" y2="445.8" stroke="#231f20" stroke-width="0.8"/>
<line x1="66.71" y1="444.3" x2="66.71" y2="445.8" stroke="#231f20" stroke-width="0.8"/>
<line x1="71.64" y1="444.3" x2="71.64" y2="445.8" stroke="#231f20" stroke-width="0.8"/>
<line x1="76.57" y1="444.3" x2="76.57" y2="445.8" stroke="#231f20" stroke-width="0.8"/>
<line x1="86.43" y1="444.3" x2="86.43" y2="445.8" stroke="#231f20" stroke-width="0.8"/>
<line x1="91.36" y1="444.3" x2="91.36" y2="445.8" stroke="#231f20" stroke-width="0.8"/>
<line x1="96.29" y1="444.3" x2="96.29" y2="445.8" stroke="#231f20" stroke-width="0.8"/>
<line x1="101.22" y1="444.3" x2="101.22" y2="445.8" stroke="#231f20" stroke-width="0.8"/>
<text x="46.15" y="462.5" font-size="9.8" textLength="48.08" lengthAdjust="spacingAndGlyphs">Time (minutes)</text>
<text transform="translate(17.94 451.86) rotate(-90)" font-size="9.4" textLength="139.71" lengthAdjust="spacingAndGlyphs">PDH activity (NADH, nmoles/min/mg protein)</text>
<line x1="46.99" y1="340.63" x2="46.99" y2="423.8" stroke="#231f20" stroke-width="0.8"/>
<line x1="45.79" y1="340.63" x2="48.19" y2="340.63" stroke="#231f20" stroke-width="0.8"/>
<line x1="45.79" y1="390" x2="48.19" y2="390" stroke="#231f20" stroke-width="0.8"/>
<line x1="45.79" y1="395" x2="48.19" y2="395" stroke="#231f20" stroke-width="0.8"/>
<line x1="45.79" y1="400.5" x2="48.19" y2="400.5" stroke="#231f20" stroke-width="0.8"/>
<line x1="45.79" y1="423.8" x2="48.19" y2="423.8" stroke="#231f20" stroke-width="0.8"/>
<line x1="66.71" y1="344.4" x2="66.71" y2="380.4" stroke="#231f20" stroke-width="0.8"/>
<line x1="65.51" y1="344.4" x2="67.91" y2="344.4" stroke="#231f20" stroke-width="0.8"/>
<line x1="65.51" y1="380.4" x2="67.91" y2="380.4" stroke="#231f20" stroke-width="0.8"/>
<line x1="68.2" y1="381.4" x2="68.2" y2="411.3" stroke="#231f20" stroke-width="0.8"/>
<line x1="67" y1="381.4" x2="69.4" y2="381.4" stroke="#231f20" stroke-width="0.8"/>
<line x1="67" y1="411.3" x2="69.4" y2="411.3" stroke="#231f20" stroke-width="0.8"/>
<line x1="91.36" y1="351.2" x2="91.36" y2="367.7" stroke="#231f20" stroke-width="0.8"/>
<line x1="90.16" y1="351.2" x2="92.56" y2="351.2" stroke="#231f20" stroke-width="0.8"/>
<line x1="90.16" y1="367.7" x2="92.56" y2="367.7" stroke="#231f20" stroke-width="0.8"/>
<line x1="93.4" y1="374" x2="93.4" y2="396.3" stroke="#231f20" stroke-width="0.8"/>
<line x1="92.2" y1="374" x2="94.6" y2="374" stroke="#231f20" stroke-width="0.8"/>
<line x1="92.2" y1="396.3" x2="94.6" y2="396.3" stroke="#231f20" stroke-width="0.8"/>
<text x="48.65" y="412.22" font-size="8.2" textLength="8.99" lengthAdjust="spacingAndGlyphs">***</text>
<text x="70.04" y="395.62" font-size="8.2" textLength="9.09" lengthAdjust="spacingAndGlyphs">***</text>
<text x="95.85" y="388.82" font-size="8.2" textLength="8.68" lengthAdjust="spacingAndGlyphs">***</text>
<polyline points="46.99,366.47 66.71,362.17 91.36,360.01" fill="none" stroke="#231f20" stroke-width="1.1" stroke-linejoin="round"/>
<polyline points="46.99,379.39 66.71,361.31 91.36,356.14" fill="none" stroke="#231f20" stroke-width="1.1" stroke-linejoin="round"/>
<polyline points="46.99,428.93 66.71,414.28 91.36,402.22" fill="none" stroke="#0c5189" stroke-width="1.1" stroke-linejoin="round"/>
<polyline points="46.99,439.69 66.71,430.22 91.36,428.06" fill="none" stroke="#c4172f" stroke-width="1.1" stroke-linejoin="round"/>
<line x1="46.99" y1="427.63" x2="46.99" y2="430.22" stroke="#0c5189" stroke-width="0.8"/>
<line x1="45.89" y1="427.63" x2="48.09" y2="427.63" stroke="#0c5189" stroke-width="0.8"/>
<line x1="45.89" y1="430.22" x2="48.09" y2="430.22" stroke="#0c5189" stroke-width="0.8"/>
<line x1="66.71" y1="410.84" x2="66.71" y2="417.73" stroke="#0c5189" stroke-width="0.8"/>
<line x1="65.61" y1="410.84" x2="67.81" y2="410.84" stroke="#0c5189" stroke-width="0.8"/>
<line x1="65.61" y1="417.73" x2="67.81" y2="417.73" stroke="#0c5189" stroke-width="0.8"/>
<line x1="91.36" y1="397.92" x2="91.36" y2="406.53" stroke="#0c5189" stroke-width="0.8"/>
<line x1="90.26" y1="397.92" x2="92.46" y2="397.92" stroke="#0c5189" stroke-width="0.8"/>
<line x1="90.26" y1="406.53" x2="92.46" y2="406.53" stroke="#0c5189" stroke-width="0.8"/>
<line x1="46.99" y1="437.11" x2="46.99" y2="442.28" stroke="#c4172f" stroke-width="0.8"/>
<line x1="45.89" y1="437.11" x2="48.09" y2="437.11" stroke="#c4172f" stroke-width="0.8"/>
<line x1="45.89" y1="442.28" x2="48.09" y2="442.28" stroke="#c4172f" stroke-width="0.8"/>
<line x1="66.71" y1="425.91" x2="66.71" y2="434.52" stroke="#c4172f" stroke-width="0.8"/>
<line x1="65.61" y1="425.91" x2="67.81" y2="425.91" stroke="#c4172f" stroke-width="0.8"/>
<line x1="65.61" y1="434.52" x2="67.81" y2="434.52" stroke="#c4172f" stroke-width="0.8"/>
<line x1="91.36" y1="423.76" x2="91.36" y2="432.37" stroke="#c4172f" stroke-width="0.8"/>
<line x1="90.26" y1="423.76" x2="92.46" y2="423.76" stroke="#c4172f" stroke-width="0.8"/>
<line x1="90.26" y1="432.37" x2="92.46" y2="432.37" stroke="#c4172f" stroke-width="0.8"/>
<polygon points="46.99,364.91 45.49,367.52 48.49,367.52" fill="#231f20" stroke="#231f20" stroke-width="0.9"/>
<polygon points="66.71,360.6 65.21,363.21 68.21,363.21" fill="#231f20" stroke="#231f20" stroke-width="0.9"/>
<polygon points="91.36,358.45 89.86,361.06 92.86,361.06" fill="#231f20" stroke="#231f20" stroke-width="0.9"/>
<polygon points="46.99,380.96 45.49,378.35 48.49,378.35" fill="#231f20" stroke="#231f20" stroke-width="0.9"/>
<polygon points="66.71,362.87 65.21,360.26 68.21,360.26" fill="#231f20" stroke="#231f20" stroke-width="0.9"/>
<polygon points="91.36,357.7 89.86,355.09 92.86,355.09" fill="#231f20" stroke="#231f20" stroke-width="0.9"/>
<circle cx="46.99" cy="428.93" r="1.4" fill="#0c5189" stroke="none" stroke-width="0"/>
<circle cx="66.71" cy="414.28" r="1.4" fill="#0c5189" stroke="none" stroke-width="0"/>
<circle cx="91.36" cy="402.22" r="1.4" fill="#0c5189" stroke="none" stroke-width="0"/>
<circle cx="46.99" cy="439.69" r="1.5" fill="#c4172f" stroke="none" stroke-width="0"/>
<circle cx="66.71" cy="430.22" r="1.5" fill="#c4172f" stroke="none" stroke-width="0"/>
<circle cx="91.36" cy="428.06" r="1.5" fill="#c4172f" stroke="none" stroke-width="0"/>
<line x1="39.9" y1="308.5" x2="48.4" y2="308.5" stroke="#c4172f" stroke-width="1"/>
<circle cx="44.1" cy="308.5" r="1.1" fill="#c4172f" stroke="none" stroke-width="0"/>
<text x="49.49" y="310.8" font-size="6.5" textLength="16" lengthAdjust="spacingAndGlyphs">CTRL</text>
<line x1="39.9" y1="315.2" x2="48.4" y2="315.2" stroke="#231f20" stroke-width="1"/>
<polygon points="44.1,316.56 42.8,314.3 45.4,314.3" fill="#231f20" stroke="#231f20" stroke-width="0.9"/>
<text x="49.25" y="317.5" font-size="6.5" textLength="42.79" lengthAdjust="spacingAndGlyphs">MKO, Clone 1</text>
<line x1="39.9" y1="322.6" x2="48.4" y2="322.6" stroke="#231f20" stroke-width="1"/>
<polygon points="44.1,321.24 42.8,323.5 45.4,323.5" fill="#231f20" stroke="#231f20" stroke-width="0.9"/>
<text x="49.25" y="324.9" font-size="6.5" textLength="42.79" lengthAdjust="spacingAndGlyphs">MKO, Clone 2</text>
<line x1="39.9" y1="330.3" x2="48.4" y2="330.3" stroke="#0c5189" stroke-width="1"/>
<circle cx="44.1" cy="330.3" r="1.1" fill="#0c5189" stroke="none" stroke-width="0"/>
<text x="49.23" y="332.6" font-size="6.5" textLength="57.01" lengthAdjust="spacingAndGlyphs">MondoA Overexpr</text>
<text x="112.51" y="302" font-size="10.8" font-weight="bold" fill="#000" textLength="6.91" lengthAdjust="spacingAndGlyphs">J</text>
<text x="170" y="302.9" font-size="8.6" text-anchor="middle" textLength="21.6" lengthAdjust="spacingAndGlyphs">CTRL</text>
<text x="206.5" y="302.9" font-size="8.6" text-anchor="middle" textLength="23.7" lengthAdjust="spacingAndGlyphs">MKO,</text>
<text x="208.2" y="314" font-size="8.6" text-anchor="middle" textLength="31.3" lengthAdjust="spacingAndGlyphs">Clone 1</text>
<text x="244.4" y="302.9" font-size="8.6" text-anchor="middle" textLength="23.7" lengthAdjust="spacingAndGlyphs">MKO,</text>
<text x="246.5" y="314" font-size="8.6" text-anchor="middle" textLength="31.7" lengthAdjust="spacingAndGlyphs">Clone 2</text>
<text x="281.9" y="302.9" font-size="8.6" text-anchor="middle" textLength="34.7" lengthAdjust="spacingAndGlyphs">MondoA</text>
<text x="283.4" y="314" font-size="8.6" text-anchor="middle" textLength="37.8" lengthAdjust="spacingAndGlyphs">Overexpr</text>
<text x="117.14" y="327.7" font-size="8.7" textLength="35.15" lengthAdjust="spacingAndGlyphs">MondoA</text>
<text x="120.44" y="349.4" font-size="8.7" textLength="32.6" lengthAdjust="spacingAndGlyphs">GAPDH</text>
<text x="129.18" y="366.3" font-size="8.7" textLength="23.6" lengthAdjust="spacingAndGlyphs">PDK1</text>
<text x="124.32" y="385" font-size="8.7" textLength="28.57" lengthAdjust="spacingAndGlyphs">Tubulin</text>
<text x="121.4" y="404.3" font-size="8.7" textLength="24.45" lengthAdjust="spacingAndGlyphs">pPDH</text>
<text x="116.26" y="413.8" font-size="8.7" textLength="34.78" lengthAdjust="spacingAndGlyphs">(Ser293)</text>
<text x="133.81" y="430.1" font-size="8.7" textLength="18.3" lengthAdjust="spacingAndGlyphs">PDH</text>
<text x="127.23" y="449.1" font-size="8.7" textLength="24.58" lengthAdjust="spacingAndGlyphs">TXNIP</text>
<text x="120.66" y="470.8" font-size="8.7" textLength="31.46" lengthAdjust="spacingAndGlyphs">GAPDH</text>
<rect x="157.1" y="318.4" width="147.1" height="17.8" fill="#d3d3d3"/>
<rect x="161.5" y="328.4" width="26.5" height="2.8" rx="1.4" ry="1.4" fill="#2c2c2c" filter="url(#bl2)"/>
<rect x="269.7" y="322.7" width="29.8" height="9.4" rx="4" ry="4.7" fill="#141414" filter="url(#bl)"/>
<rect x="157.1" y="318.4" width="147.1" height="17.8" fill="none" stroke="#2a2a2a" stroke-width="1"/>
<rect x="157.1" y="338.6" width="147.1" height="17.7" fill="#a6a6a6"/>
<rect x="162.3" y="344" width="31.5" height="6" rx="3" ry="3" fill="#141414" filter="url(#bl)"/>
<rect x="197.7" y="344.25" width="29.3" height="5.5" rx="2.75" ry="2.75" fill="#141414" filter="url(#bl)"/>
<rect x="230" y="344.55" width="32" height="5.5" rx="2.75" ry="2.75" fill="#141414" filter="url(#bl)"/>
<rect x="262" y="344.8" width="34.5" height="6" rx="3" ry="3" fill="#141414" filter="url(#bl)"/>
<rect x="157.1" y="338.6" width="147.1" height="17.7" fill="none" stroke="#2a2a2a" stroke-width="1"/>
<rect x="157.1" y="358.8" width="147.1" height="14.3" fill="#f1f1f1"/>
<rect x="163.5" y="362.3" width="3" height="2.2" rx="1.1" ry="1.1" fill="#888" filter="url(#bl2)"/>
<rect x="173" y="361.6" width="15.5" height="4.6" rx="2.3" ry="2.3" fill="#141414" filter="url(#bl)"/>
<rect x="199.2" y="362.8" width="26.2" height="3.6" rx="1.8" ry="1.8" fill="#6a6a6a" filter="url(#bl)"/>
<rect x="236" y="362.5" width="22.5" height="3.8" rx="1.9" ry="1.9" fill="#3a3a3a" filter="url(#bl)"/>
<rect x="271.7" y="363.4" width="26.9" height="5.6" rx="2.8" ry="2.8" fill="#141414" filter="url(#bl)"/>
<rect x="157.1" y="358.8" width="147.1" height="14.3" fill="none" stroke="#2a2a2a" stroke-width="1"/>
<rect x="157.1" y="375.4" width="147.1" height="16.4" fill="#f4f4f4"/>
<rect x="160" y="380" width="28.5" height="7" rx="3.5" ry="3.5" fill="#141414" filter="url(#bl)"/>
<rect x="200" y="380.7" width="25.4" height="4.6" rx="2.3" ry="2.3" fill="#141414" filter="url(#bl)"/>
<rect x="236" y="380.7" width="27.8" height="5" rx="2.5" ry="2.5" fill="#141414" filter="url(#bl)"/>
<rect x="274.2" y="380" width="27.8" height="6" rx="3" ry="3" fill="#141414" filter="url(#bl)"/>
<rect x="157.1" y="375.4" width="147.1" height="16.4" fill="none" stroke="#2a2a2a" stroke-width="1"/>
<rect x="157.1" y="395.7" width="147.1" height="18.6" fill="#dedede"/>
<rect x="160.8" y="399.4" width="30.7" height="6" rx="3" ry="3" fill="#141414" filter="url(#bl)"/>
<rect x="199.2" y="400.8" width="27.1" height="4.4" rx="2.2" ry="2.2" fill="#1a1a1a" filter="url(#bl)"/>
<rect x="234.6" y="400.5" width="26.4" height="5" rx="2.5" ry="2.5" fill="#141414" filter="url(#bl)"/>
<rect x="269.4" y="400.9" width="29.8" height="6.6" rx="3.3" ry="3.3" fill="#141414" filter="url(#bl)"/>
<rect x="157.1" y="395.7" width="147.1" height="18.6" fill="none" stroke="#2a2a2a" stroke-width="1"/>
<rect x="157.1" y="416.9" width="147.1" height="17.7" fill="#a8a8a8"/>
<rect x="161.5" y="424.9" width="31.5" height="5.6" rx="2.8" ry="2.8" fill="#141414" filter="url(#bl)"/>
<rect x="198.5" y="424.9" width="28.5" height="5.2" rx="2.6" ry="2.6" fill="#141414" filter="url(#bl)"/>
<rect x="235.1" y="424.2" width="27.8" height="5.2" rx="2.6" ry="2.6" fill="#1c1c1c" filter="url(#bl)"/>
<rect x="271.6" y="424.8" width="27.8" height="4.8" rx="2.4" ry="2.4" fill="#303030" filter="url(#bl)"/>
<rect x="157.1" y="416.9" width="147.1" height="17.7" fill="none" stroke="#2a2a2a" stroke-width="1"/>
<rect x="157.1" y="437.4" width="147.1" height="18" fill="#b6b6b6"/>
<rect x="162.3" y="444.3" width="28.5" height="4.6" rx="2.3" ry="2.3" fill="#141414" filter="url(#bl)"/>
<rect x="162" y="449.6" width="29" height="3.2" rx="1.6" ry="1.6" fill="#333" filter="url(#bl)"/>
<rect x="199" y="445" width="27" height="3.2" rx="1.6" ry="1.6" fill="#8c8c8c" filter="url(#bl)"/>
<rect x="199" y="449.3" width="27" height="3" rx="1.5" ry="1.5" fill="#7a7a7a" filter="url(#bl)"/>
<rect x="235" y="445" width="27" height="3.2" rx="1.6" ry="1.6" fill="#888" filter="url(#bl)"/>
<rect x="235" y="449.3" width="27" height="3" rx="1.5" ry="1.5" fill="#747474" filter="url(#bl)"/>
<rect x="270.4" y="443.9" width="29" height="5" rx="2.5" ry="2.5" fill="#141414" filter="url(#bl)"/>
<rect x="270.4" y="449.4" width="29" height="3.2" rx="1.6" ry="1.6" fill="#3a3a3a" filter="url(#bl)"/>
<rect x="157.1" y="437.4" width="147.1" height="18" fill="none" stroke="#2a2a2a" stroke-width="1"/>
<rect x="157.1" y="458.5" width="147.1" height="18" fill="#cecece"/>
<rect x="160" y="463.75" width="35.4" height="6.5" rx="3.25" ry="3.25" fill="#141414" filter="url(#bl)"/>
<rect x="198.5" y="464.5" width="30" height="6" rx="3" ry="3" fill="#141414" filter="url(#bl)"/>
<rect x="232.4" y="464.6" width="34.6" height="6" rx="3" ry="3" fill="#141414" filter="url(#bl)"/>
<rect x="267" y="464.6" width="35.6" height="6" rx="3" ry="3" fill="#141414" filter="url(#bl)"/>
<rect x="157.1" y="458.5" width="147.1" height="18" fill="none" stroke="#2a2a2a" stroke-width="1"/>
<text x="328.74" y="301.3" font-size="10.8" font-weight="bold" fill="#000" textLength="8.4" lengthAdjust="spacingAndGlyphs">K</text>
<line x1="353.8" y1="323.95" x2="353.8" y2="416.25" stroke="#231f20" stroke-width="1.1"/>
<line x1="351.3" y1="324.25" x2="353.8" y2="324.25" stroke="#231f20" stroke-width="1.1"/>
<text x="349.8" y="326.85" font-size="8.4" text-anchor="end">1.5</text>
<line x1="351.3" y1="354.75" x2="353.8" y2="354.75" stroke="#231f20" stroke-width="1.1"/>
<text x="349.8" y="357.35" font-size="8.4" text-anchor="end">1.0</text>
<line x1="351.3" y1="385.25" x2="353.8" y2="385.25" stroke="#231f20" stroke-width="1.1"/>
<text x="349.8" y="387.85" font-size="8.4" text-anchor="end">0.5</text>
<line x1="351.3" y1="415.75" x2="353.8" y2="415.75" stroke="#231f20" stroke-width="1.1"/>
<text x="349.8" y="418.35" font-size="8.4" text-anchor="end">0.0</text>
<line x1="353.3" y1="415.75" x2="416.3" y2="415.75" stroke="#231f20" stroke-width="1.1"/>
<line x1="364.1" y1="355.36" x2="364.1" y2="352" stroke="#231f20" stroke-width="0.9"/>
<line x1="362.3" y1="352" x2="365.9" y2="352" stroke="#231f20" stroke-width="0.9"/>
<rect x="359.4" y="355.36" width="9.4" height="60.39" fill="#c4172f"/>
<line x1="364.1" y1="415.75" x2="364.1" y2="418" stroke="#231f20" stroke-width="1"/>
<text transform="translate(367.7 423.6) rotate(-45)" font-size="9.5" text-anchor="end">Ctrl</text>
<line x1="378.1" y1="396.84" x2="378.1" y2="392.26" stroke="#231f20" stroke-width="0.9"/>
<line x1="376.3" y1="392.26" x2="379.9" y2="392.26" stroke="#231f20" stroke-width="0.9"/>
<rect x="373.5" y="396.84" width="9.2" height="18.91" fill="#1f1b1c"/>
<line x1="378.1" y1="415.75" x2="378.1" y2="418" stroke="#231f20" stroke-width="1"/>
<text transform="translate(381.7 423.6) rotate(-45)" font-size="9.5" text-anchor="end">MKO1</text>
<line x1="392.2" y1="390.13" x2="392.2" y2="386.47" stroke="#231f20" stroke-width="0.9"/>
<line x1="390.4" y1="386.47" x2="394" y2="386.47" stroke="#231f20" stroke-width="0.9"/>
<rect x="387.5" y="390.13" width="9.4" height="25.62" fill="#1f1b1c"/>
<line x1="392.2" y1="415.75" x2="392.2" y2="418" stroke="#231f20" stroke-width="1"/>
<text transform="translate(395.8 423.6) rotate(-45)" font-size="9.5" text-anchor="end">MKO2</text>
<line x1="406.25" y1="337.67" x2="406.25" y2="331.57" stroke="#231f20" stroke-width="0.9"/>
<line x1="404.45" y1="331.57" x2="408.05" y2="331.57" stroke="#231f20" stroke-width="0.9"/>
<rect x="401.5" y="337.67" width="9.5" height="78.08" fill="#0c5189"/>
<line x1="406.25" y1="415.75" x2="406.25" y2="418" stroke="#231f20" stroke-width="1"/>
<text transform="translate(409.85 423.6) rotate(-45)" font-size="9.5" text-anchor="end">Overexpr</text>
<line x1="356.3" y1="324.5" x2="410" y2="324.5" stroke="#231f20" stroke-width="0.85"/>
<line x1="356.3" y1="322.6" x2="356.3" y2="326.4" stroke="#231f20" stroke-width="0.85"/>
<line x1="410" y1="322.6" x2="410" y2="326.4" stroke="#231f20" stroke-width="0.85"/>
<text x="383.8" y="322.2" font-size="7.4" text-anchor="middle">ns</text>
<line x1="356.3" y1="336.8" x2="396.3" y2="336.8" stroke="#231f20" stroke-width="0.85"/>
<line x1="356.3" y1="334.9" x2="356.3" y2="338.7" stroke="#231f20" stroke-width="0.85"/>
<line x1="396.3" y1="334.9" x2="396.3" y2="338.7" stroke="#231f20" stroke-width="0.85"/>
<text x="377.5" y="338.02" font-size="8.2" text-anchor="middle">***</text>
<line x1="356.3" y1="346.3" x2="374.5" y2="346.3" stroke="#231f20" stroke-width="0.85"/>
<line x1="356.3" y1="344.4" x2="356.3" y2="348.2" stroke="#231f20" stroke-width="0.85"/>
<line x1="374.5" y1="344.4" x2="374.5" y2="348.2" stroke="#231f20" stroke-width="0.85"/>
<text x="365.5" y="347.22" font-size="8.2" text-anchor="middle">***</text>
<text transform="translate(330.26 408.5) rotate(-90)" font-size="7.4" textLength="64" lengthAdjust="spacingAndGlyphs">PDK1 expression (2</text>
<text transform="translate(327.66 344.3) rotate(-90)" font-size="4.2" textLength="10" lengthAdjust="spacingAndGlyphs">-ΔΔCt</text>
<text transform="translate(330.26 333.8) rotate(-90)" font-size="7.4" textLength="2.6" lengthAdjust="spacingAndGlyphs">)</text>
<text x="4.77" y="504.2" font-size="10.6" font-weight="bold" fill="#000" textLength="6.82" lengthAdjust="spacingAndGlyphs">L</text>
<text x="16.26" y="506.9" font-size="7.2" textLength="45.17" lengthAdjust="spacingAndGlyphs">ALL, TARGET</text>
<text x="10.04" y="517.1" font-size="7.2" textLength="57.48" lengthAdjust="spacingAndGlyphs">(n=194, Pearson</text>
<text x="25.76" y="526.3" font-size="7.2" textLength="26.76" lengthAdjust="spacingAndGlyphs">r=0,67)</text>
<text x="31.73" y="536.22" font-size="8.2" textLength="9.81" lengthAdjust="spacingAndGlyphs">***</text>
<defs><linearGradient id="hmR" x1="0" y1="0" x2="0" y2="1"><stop offset="0" stop-color="#3c53ad"/><stop offset="0.19" stop-color="#4a5fb3"/><stop offset="0.29" stop-color="#ffffff"/><stop offset="0.70" stop-color="#ffffff"/><stop offset="0.86" stop-color="#ef6b6e"/><stop offset="1" stop-color="#e3141c"/></linearGradient></defs>
<rect x="37.1" y="534.5" width="11.2" height="64.3" fill="url(#hmR)"/>
<rect x="26.2" y="534.46" width="10.9" height="1.2" fill="#d8ddf0"/>
<rect x="26.2" y="535.61" width="10.9" height="1.55" fill="#5467b8"/>
<rect x="26.2" y="537.11" width="10.9" height="1.55" fill="#c9cfe8"/>
<rect x="26.2" y="538.61" width="10.9" height="1.43" fill="#6677bf"/>
<rect x="26.2" y="540" width="10.9" height="1.78" fill="#aeb8de"/>
<rect x="26.2" y="541.73" width="10.9" height="1.78" fill="#5a6cb9"/>
<rect x="26.2" y="543.46" width="10.9" height="1.2" fill="#e4e6f2"/>
<rect x="26.2" y="544.61" width="10.9" height="1.2" fill="#e8b4bc"/>
<rect x="26.2" y="545.77" width="10.9" height="1.78" fill="#7483c4"/>
<rect x="26.2" y="547.5" width="10.9" height="1.78" fill="#b3bde0"/>
<rect x="26.2" y="549.23" width="10.9" height="1.43" fill="#4c60b4"/>
<rect x="26.2" y="550.61" width="10.9" height="1.2" fill="#f1b9bf"/>
<rect x="26.2" y="551.77" width="10.9" height="1.55" fill="#eef0f7"/>
<rect x="26.2" y="553.27" width="10.9" height="1.2" fill="#3d52ad"/>
<rect x="26.2" y="554.42" width="10.9" height="1.2" fill="#ffffff"/>
<rect x="26.2" y="555.58" width="10.9" height="1.2" fill="#f0b0b6"/>
<rect x="26.2" y="556.73" width="10.9" height="1.78" fill="#4257af"/>
<rect x="26.2" y="558.46" width="10.9" height="1.2" fill="#b57f9e"/>
<rect x="26.2" y="559.61" width="10.9" height="1.78" fill="#5266b8"/>
<rect x="26.2" y="561.34" width="10.9" height="2.93" fill="#ffffff"/>
<rect x="26.2" y="564.23" width="10.9" height="1.78" fill="#c47a91"/>
<rect x="26.2" y="565.96" width="10.9" height="1.2" fill="#ecdde5"/>
<rect x="26.2" y="567.11" width="10.9" height="1.2" fill="#5b6cba"/>
<rect x="26.2" y="568.27" width="10.9" height="1.2" fill="#6677bf"/>
<rect x="26.2" y="569.42" width="10.9" height="1.2" fill="#ffffff"/>
<rect x="26.2" y="570.58" width="10.9" height="1.2" fill="#bcc5e4"/>
<rect x="26.2" y="571.73" width="10.9" height="1.78" fill="#ffffff"/>
<rect x="26.2" y="573.46" width="10.9" height="1.78" fill="#d9606f"/>
<rect x="26.2" y="575.19" width="10.9" height="1.2" fill="#a5799e"/>
<rect x="26.2" y="576.34" width="10.9" height="1.78" fill="#f3e2e6"/>
<rect x="26.2" y="578.07" width="10.9" height="1.2" fill="#e58891"/>
<rect x="26.2" y="579.23" width="10.9" height="1.2" fill="#ffffff"/>
<rect x="26.2" y="580.38" width="10.9" height="1.78" fill="#e0525d"/>
<rect x="26.2" y="582.11" width="10.9" height="1.2" fill="#f6d6da"/>
<rect x="26.2" y="583.27" width="10.9" height="1.78" fill="#e33a45"/>
<rect x="26.2" y="585" width="10.9" height="1.2" fill="#fbeaec"/>
<rect x="26.2" y="586.15" width="10.9" height="1.78" fill="#df4350"/>
<rect x="26.2" y="587.88" width="10.9" height="1.78" fill="#9b6f9d"/>
<rect x="26.2" y="589.61" width="10.9" height="1.78" fill="#ee8f98"/>
<rect x="26.2" y="591.34" width="10.9" height="1.2" fill="#fff5f5"/>
<rect x="26.2" y="592.5" width="10.9" height="1.78" fill="#e23a46"/>
<rect x="26.2" y="594.23" width="10.9" height="1.78" fill="#f09aa2"/>
<rect x="26.2" y="595.96" width="10.9" height="2.93" fill="#e3313d"/>
<text transform="translate(35.3 603.5) rotate(-45)" font-size="7.8" text-anchor="end" textLength="19.5" lengthAdjust="spacingAndGlyphs">PDK1</text>
<text transform="translate(49 604.8) rotate(-45)" font-size="7.8" text-anchor="end" textLength="29.5" lengthAdjust="spacingAndGlyphs">MondoA</text>
<text x="90.32" y="507.6" font-size="10.3" font-weight="bold" fill="#000" textLength="11.9" lengthAdjust="spacingAndGlyphs">M</text>
<line x1="107.4" y1="528.25" x2="107.4" y2="593.8" stroke="#231f20" stroke-width="1.1"/>
<line x1="104.9" y1="528.54" x2="107.4" y2="528.54" stroke="#231f20" stroke-width="1.1"/>
<text x="103.4" y="530.99" font-size="7.9" text-anchor="end">1,500</text>
<line x1="104.9" y1="550.13" x2="107.4" y2="550.13" stroke="#231f20" stroke-width="1.1"/>
<text x="103.4" y="552.58" font-size="7.9" text-anchor="end">1,000</text>
<line x1="104.9" y1="571.71" x2="107.4" y2="571.71" stroke="#231f20" stroke-width="1.1"/>
<text x="103.4" y="574.16" font-size="7.9" text-anchor="end">500</text>
<line x1="104.9" y1="593.3" x2="107.4" y2="593.3" stroke="#231f20" stroke-width="1.1"/>
<text x="103.4" y="595.75" font-size="7.9" text-anchor="end">0</text>
<line x1="106.9" y1="593.3" x2="188.8" y2="593.3" stroke="#231f20" stroke-width="1.1"/>
<line x1="107.4" y1="593.3" x2="107.4" y2="595.8" stroke="#231f20" stroke-width="1.1"/>
<text x="107.4" y="604.74" font-size="7.6" text-anchor="middle">0</text>
<line x1="127.71" y1="593.3" x2="127.71" y2="595.8" stroke="#231f20" stroke-width="1.1"/>
<text x="127.71" y="604.74" font-size="7.6" text-anchor="middle">10</text>
<line x1="148.02" y1="593.3" x2="148.02" y2="595.8" stroke="#231f20" stroke-width="1.1"/>
<text x="148.02" y="604.74" font-size="7.6" text-anchor="middle">20</text>
<line x1="168.33" y1="593.3" x2="168.33" y2="595.8" stroke="#231f20" stroke-width="1.1"/>
<text x="168.33" y="604.74" font-size="7.6" text-anchor="middle">30</text>
<line x1="188.64" y1="593.3" x2="188.64" y2="595.8" stroke="#231f20" stroke-width="1.1"/>
<text x="188.64" y="604.74" font-size="7.6" text-anchor="middle">40</text>
<text x="127.36" y="618.5" font-size="9.4" textLength="39.26" lengthAdjust="spacingAndGlyphs">Time (hours)</text>
<text transform="translate(81.31 589.03) rotate(-90)" font-size="9" textLength="54.72" lengthAdjust="spacingAndGlyphs">Number of cells</text>
<polyline points="107.4,564 168.33,547.3" fill="none" stroke="#231f20" stroke-width="1" stroke-linejoin="round"/>
<polyline points="107.4,565.3 168.33,554.2" fill="none" stroke="#c4172f" stroke-width="1" stroke-linejoin="round"/>
<line x1="168.33" y1="544.5" x2="168.33" y2="549.8" stroke="#231f20" stroke-width="0.8"/>
<line x1="167.43" y1="544.5" x2="169.23" y2="544.5" stroke="#231f20" stroke-width="0.8"/>
<line x1="167.43" y1="549.8" x2="169.23" y2="549.8" stroke="#231f20" stroke-width="0.8"/>
<line x1="168.33" y1="551.5" x2="168.33" y2="556.3" stroke="#231f20" stroke-width="0.8"/>
<line x1="167.43" y1="551.5" x2="169.23" y2="551.5" stroke="#231f20" stroke-width="0.8"/>
<line x1="167.43" y1="556.3" x2="169.23" y2="556.3" stroke="#231f20" stroke-width="0.8"/>
<circle cx="168.33" cy="547.3" r="1" fill="#231f20" stroke="none" stroke-width="0"/>
<circle cx="168.33" cy="553.6" r="1.3" fill="#fff" stroke="#231f20" stroke-width="0.8"/>
<circle cx="107.4" cy="564.6" r="1.8" fill="#2a2a2a" stroke="none" stroke-width="0"/>
<line x1="107.4" y1="561.5" x2="107.4" y2="567.8" stroke="#231f20" stroke-width="0.8"/>
<line x1="106.5" y1="561.5" x2="108.3" y2="561.5" stroke="#231f20" stroke-width="0.8"/>
<line x1="106.5" y1="567.8" x2="108.3" y2="567.8" stroke="#231f20" stroke-width="0.8"/>
<line x1="120.7" y1="528.4" x2="128.5" y2="528.4" stroke="#231f20" stroke-width="1"/>
<circle cx="124.6" cy="528.4" r="1" fill="#231f20" stroke="none" stroke-width="0"/>
<line x1="120.7" y1="538.1" x2="128.5" y2="538.1" stroke="#c4172f" stroke-width="1"/>
<circle cx="124.2" cy="538.1" r="1.5" fill="#6a2a34" stroke="#c4172f" stroke-width="0.8"/>
<text x="129.44" y="530.6" font-size="6.8" textLength="20.17" lengthAdjust="spacingAndGlyphs">Nalm6</text>
<text x="129.45" y="540.3" font-size="6.8" textLength="59.23" lengthAdjust="spacingAndGlyphs">Nalm6 DCA 5,0mM</text>
<text x="215.29" y="507.6" font-size="10.3" font-weight="bold" fill="#000" textLength="10.71" lengthAdjust="spacingAndGlyphs">N</text>
<line x1="234.5" y1="524.46" x2="234.5" y2="593.8" stroke="#231f20" stroke-width="1.1"/>
<line x1="232" y1="524.76" x2="234.5" y2="524.76" stroke="#231f20" stroke-width="1.1"/>
<text x="229.8" y="527.24" font-size="8" text-anchor="end">20,000</text>
<line x1="232" y1="541.89" x2="234.5" y2="541.89" stroke="#231f20" stroke-width="1.1"/>
<text x="229.8" y="544.38" font-size="8" text-anchor="end">15,000</text>
<line x1="232" y1="559.03" x2="234.5" y2="559.03" stroke="#231f20" stroke-width="1.1"/>
<text x="229.8" y="561.51" font-size="8" text-anchor="end">10,000</text>
<line x1="232" y1="576.16" x2="234.5" y2="576.16" stroke="#231f20" stroke-width="1.1"/>
<text x="229.8" y="578.64" font-size="8" text-anchor="end">5000</text>
<line x1="232" y1="593.3" x2="234.5" y2="593.3" stroke="#231f20" stroke-width="1.1"/>
<text x="229.8" y="595.78" font-size="8" text-anchor="end">0</text>
<line x1="234" y1="593.3" x2="317.5" y2="593.3" stroke="#231f20" stroke-width="1.1"/>
<line x1="255.5" y1="593.3" x2="255.5" y2="595.8" stroke="#231f20" stroke-width="1.1"/>
<text x="255.5" y="604.9" font-size="7.6" text-anchor="middle">0h</text>
<line x1="276.3" y1="593.3" x2="276.3" y2="595.8" stroke="#231f20" stroke-width="1.1"/>
<text x="276.3" y="604.9" font-size="7.6" text-anchor="middle">20h</text>
<line x1="298" y1="593.3" x2="298" y2="595.8" stroke="#231f20" stroke-width="1.1"/>
<text x="298" y="604.9" font-size="7.6" text-anchor="middle">48h</text>
<text x="255.36" y="618.5" font-size="9.4" textLength="40.07" lengthAdjust="spacingAndGlyphs">Time (hours)</text>
<text transform="translate(202.7 585.92) rotate(-90)" font-size="9" textLength="53.7" lengthAdjust="spacingAndGlyphs">Number of cells</text>
<text x="258.29" y="521.1" font-size="6.5" textLength="18.29" lengthAdjust="spacingAndGlyphs">Nalm6</text>
<polyline points="255.5,574.5 276.3,567 298,535" fill="none" stroke="#231f20" stroke-width="1" stroke-linejoin="round"/>
<polyline points="255.5,575 276.3,569.3 298,553" fill="none" stroke="#c4172f" stroke-width="1" stroke-linejoin="round"/>
<circle cx="255.5" cy="574.5" r="1.3" fill="#231f20" stroke="none" stroke-width="0"/>
<circle cx="276.3" cy="567" r="1.3" fill="#231f20" stroke="none" stroke-width="0"/>
<circle cx="298" cy="535" r="1.3" fill="#231f20" stroke="none" stroke-width="0"/>
<rect x="254.3" y="573.8" width="2.4" height="2.4" fill="#c4172f"/>
<rect x="275.1" y="568.1" width="2.4" height="2.4" fill="#c4172f"/>
<rect x="296.8" y="551.8" width="2.4" height="2.4" fill="#c4172f"/>
<text x="306.15" y="549.72" font-size="8.2" textLength="8.99" lengthAdjust="spacingAndGlyphs">***</text>
<line x1="240" y1="528.8" x2="245.5" y2="528.8" stroke="#231f20" stroke-width="1"/>
<circle cx="242.8" cy="528.8" r="1.1" fill="#231f20" stroke="none" stroke-width="0"/>
<line x1="240" y1="537.5" x2="245.5" y2="537.5" stroke="#c4172f" stroke-width="1"/>
<rect x="241.7" y="536.4" width="2.2" height="2.2" fill="#c4172f"/>
<text x="247.53" y="531.1" font-size="6.8" textLength="17.77" lengthAdjust="spacingAndGlyphs">DMSO</text>
<text x="247.7" y="539.8" font-size="6.8" textLength="40.87" lengthAdjust="spacingAndGlyphs">SBI477 10μM</text>
<text x="363.25" y="465.8" font-size="10.3" font-weight="bold" fill="#000" textLength="9.79" lengthAdjust="spacingAndGlyphs">O</text>
<line x1="378" y1="482" x2="378" y2="552" stroke="#231f20" stroke-width="1.1"/>
<line x1="375.5" y1="482.3" x2="378" y2="482.3" stroke="#231f20" stroke-width="1.1"/>
<text x="374.8" y="484.72" font-size="7.8" text-anchor="end">2.0</text>
<line x1="375.5" y1="499.6" x2="378" y2="499.6" stroke="#231f20" stroke-width="1.1"/>
<text x="374.8" y="502.02" font-size="7.8" text-anchor="end">1.5</text>
<line x1="375.5" y1="516.9" x2="378" y2="516.9" stroke="#231f20" stroke-width="1.1"/>
<text x="374.8" y="519.32" font-size="7.8" text-anchor="end">1.0</text>
<line x1="375.5" y1="534.2" x2="378" y2="534.2" stroke="#231f20" stroke-width="1.1"/>
<text x="374.8" y="536.62" font-size="7.8" text-anchor="end">0.5</text>
<line x1="375.5" y1="551.5" x2="378" y2="551.5" stroke="#231f20" stroke-width="1.1"/>
<text x="374.8" y="553.92" font-size="7.8" text-anchor="end">0.0</text>
<line x1="377.5" y1="551.5" x2="472.2" y2="551.5" stroke="#231f20" stroke-width="1.1"/>
<line x1="378" y1="551.5" x2="378" y2="554.1" stroke="#231f20" stroke-width="1"/>
<line x1="384.27" y1="551.5" x2="384.27" y2="553.1" stroke="#231f20" stroke-width="0.8"/>
<line x1="390.54" y1="551.5" x2="390.54" y2="553.1" stroke="#231f20" stroke-width="0.8"/>
<line x1="396.81" y1="551.5" x2="396.81" y2="553.1" stroke="#231f20" stroke-width="0.8"/>
<line x1="403.08" y1="551.5" x2="403.08" y2="553.1" stroke="#231f20" stroke-width="0.8"/>
<line x1="409.35" y1="551.5" x2="409.35" y2="554.1" stroke="#231f20" stroke-width="1"/>
<line x1="415.62" y1="551.5" x2="415.62" y2="553.1" stroke="#231f20" stroke-width="0.8"/>
<line x1="421.89" y1="551.5" x2="421.89" y2="553.1" stroke="#231f20" stroke-width="0.8"/>
<line x1="428.16" y1="551.5" x2="428.16" y2="553.1" stroke="#231f20" stroke-width="0.8"/>
<line x1="434.43" y1="551.5" x2="434.43" y2="553.1" stroke="#231f20" stroke-width="0.8"/>
<line x1="440.7" y1="551.5" x2="440.7" y2="554.1" stroke="#231f20" stroke-width="1"/>
<line x1="446.97" y1="551.5" x2="446.97" y2="553.1" stroke="#231f20" stroke-width="0.8"/>
<line x1="453.24" y1="551.5" x2="453.24" y2="553.1" stroke="#231f20" stroke-width="0.8"/>
<line x1="459.51" y1="551.5" x2="459.51" y2="553.1" stroke="#231f20" stroke-width="0.8"/>
<line x1="465.78" y1="551.5" x2="465.78" y2="553.1" stroke="#231f20" stroke-width="0.8"/>
<line x1="472.05" y1="551.5" x2="472.05" y2="554.1" stroke="#231f20" stroke-width="1"/>
<text x="378" y="561.5" font-size="7.8" text-anchor="middle">0</text>
<text x="409.35" y="561.5" font-size="7.8" text-anchor="middle">5</text>
<text x="440.7" y="561.5" font-size="7.8" text-anchor="middle">10</text>
<text x="472.05" y="561.5" font-size="7.8" text-anchor="middle">15</text>
<text x="407.17" y="572.6" font-size="7.8" textLength="35.92" lengthAdjust="spacingAndGlyphs">SBI477,μM</text>
<text transform="translate(360.2 562.66) rotate(-90)" font-size="8.4" textLength="90.8" lengthAdjust="spacingAndGlyphs">PDK1 protein relative density</text>
<polyline points="378,517.4 409.35,539 440.7,538.5" fill="none" stroke="#c4172f" stroke-width="1.1" stroke-linejoin="round"/>
<polyline points="378,496.8 409.35,497.2 440.7,513" fill="none" stroke="#0c5189" stroke-width="1.1" stroke-linejoin="round"/>
<rect x="376.8" y="516.2" width="2.4" height="2.4" fill="#c4172f"/>
<rect x="408.15" y="537.8" width="2.4" height="2.4" fill="#c4172f"/>
<rect x="439.5" y="537.3" width="2.4" height="2.4" fill="#c4172f"/>
<circle cx="378" cy="496.8" r="1.3" fill="#0c5189" stroke="none" stroke-width="0"/>
<circle cx="409.35" cy="497.2" r="1.3" fill="#0c5189" stroke="none" stroke-width="0"/>
<circle cx="440.7" cy="513" r="1.3" fill="#0c5189" stroke="none" stroke-width="0"/>
<line x1="432.5" y1="483" x2="442.5" y2="483" stroke="#c4172f" stroke-width="1.1"/>
<rect x="436.4" y="481.9" width="2.2" height="2.2" fill="#c4172f"/>
<line x1="432.5" y1="495" x2="442.5" y2="495" stroke="#0c5189" stroke-width="1.1"/>
<circle cx="437.5" cy="495" r="1.2" fill="#0c5189" stroke="none" stroke-width="0"/>
<text x="446.62" y="485.4" font-size="7.2" textLength="11.88" lengthAdjust="spacingAndGlyphs">Ctrl</text>
<text x="446.68" y="497.4" font-size="7.2" textLength="28.94" lengthAdjust="spacingAndGlyphs">Overexpr</text>
<text x="353.77" y="593.3" font-size="11.8" font-weight="bold" fill="#000" textLength="8.54" lengthAdjust="spacingAndGlyphs">P</text>
<text x="375.05" y="592.2" font-size="9" textLength="21.4" lengthAdjust="spacingAndGlyphs">MKO</text>
<text x="408.68" y="592.2" font-size="9" textLength="16.2" lengthAdjust="spacingAndGlyphs">Ctrl</text>
<text x="442.99" y="592.2" font-size="9" textLength="37.47" lengthAdjust="spacingAndGlyphs">Overexpr</text>
<text x="338.84" y="605.8" font-size="8.8" textLength="35.36" lengthAdjust="spacingAndGlyphs">MondoA</text>
<text x="351.62" y="622.6" font-size="8.8" textLength="22.33" lengthAdjust="spacingAndGlyphs">PDK1</text>
<text x="343.05" y="639.3" font-size="8.8" textLength="31.88" lengthAdjust="spacingAndGlyphs">GAPDH</text>
<text x="327.3" y="652.2" font-size="8.8" textLength="47.26" lengthAdjust="spacingAndGlyphs">SBI-477/μM</text>
<text x="385.8" y="652.3" font-size="8" text-anchor="middle">0</text>
<text x="400.4" y="652.3" font-size="8" text-anchor="middle">0</text>
<text x="415.2" y="652.3" font-size="8" text-anchor="middle">5</text>
<text x="429.4" y="652.3" font-size="8" text-anchor="middle">10</text>
<text x="445.3" y="652.3" font-size="8" text-anchor="middle">0</text>
<text x="459" y="652.3" font-size="8" text-anchor="middle">5</text>
<text x="474.3" y="652.3" font-size="8" text-anchor="middle">10</text>
<rect x="379.2" y="595.8" width="12.6" height="14.2" fill="#c8c8c8"/>
<rect x="379.2" y="595.8" width="12.6" height="14.2" fill="none" stroke="#2a2a2a" stroke-width="1"/>
<rect x="394.1" y="595.8" width="42.8" height="14.2" fill="#d4d4d4"/>
<rect x="395.4" y="601.4" width="11.5" height="3" rx="1.5" ry="1.5" fill="#3a3a3a" filter="url(#bl)"/>
<rect x="410.2" y="601.4" width="10.8" height="3" rx="1.5" ry="1.5" fill="#3a3a3a" filter="url(#bl)"/>
<rect x="424" y="601.4" width="10.5" height="3" rx="1.5" ry="1.5" fill="#3a3a3a" filter="url(#bl)"/>
<rect x="394.1" y="595.8" width="42.8" height="14.2" fill="none" stroke="#2a2a2a" stroke-width="1"/>
<rect x="439.2" y="595.8" width="42.7" height="14.2" fill="#c4c4c4"/>
<rect x="440.8" y="598.8" width="11.7" height="7" rx="3.5" ry="3.5" fill="#0a0a0a" filter="url(#bl)"/>
<rect x="453.5" y="598.8" width="13" height="7" rx="3.5" ry="3.5" fill="#0a0a0a" filter="url(#bl)"/>
<rect x="466.9" y="598.8" width="12.4" height="7" rx="3.5" ry="3.5" fill="#0a0a0a" filter="url(#bl)"/>
<rect x="439.2" y="595.8" width="42.7" height="14.2" fill="none" stroke="#2a2a2a" stroke-width="1"/>
<rect x="379.2" y="613.3" width="12.6" height="13.8" fill="#d2d2d2"/>
<rect x="380.3" y="615.7" width="10.5" height="3" rx="1.5" ry="1.5" fill="#5a5a5a" filter="url(#bl)"/>
<rect x="380.3" y="620.7" width="10.5" height="3" rx="1.5" ry="1.5" fill="#4a4a4a" filter="url(#bl)"/>
<rect x="379.2" y="613.3" width="12.6" height="13.8" fill="none" stroke="#2a2a2a" stroke-width="1"/>
<rect x="394.1" y="613.3" width="42.8" height="13.8" fill="#d8d8d8"/>
<rect x="395.4" y="615.5" width="11.5" height="3" rx="1.5" ry="1.5" fill="#4a4a4a" filter="url(#bl)"/>
<rect x="410.2" y="615.5" width="10.8" height="3" rx="1.5" ry="1.5" fill="#4a4a4a" filter="url(#bl)"/>
<rect x="424" y="615.5" width="10.5" height="3" rx="1.5" ry="1.5" fill="#4a4a4a" filter="url(#bl)"/>
<rect x="395.4" y="620.7" width="11.5" height="3.2" rx="1.6" ry="1.6" fill="#262626" filter="url(#bl)"/>
<rect x="410.2" y="620.7" width="10.8" height="3.2" rx="1.6" ry="1.6" fill="#262626" filter="url(#bl)"/>
<rect x="424" y="620.7" width="10.5" height="3.2" rx="1.6" ry="1.6" fill="#262626" filter="url(#bl)"/>
<rect x="394.1" y="613.3" width="42.8" height="13.8" fill="none" stroke="#2a2a2a" stroke-width="1"/>
<rect x="439.2" y="613.3" width="42.7" height="13.8" fill="#cccccc"/>
<rect x="441.3" y="615.4" width="10.7" height="3.2" rx="1.6" ry="1.6" fill="#242424" filter="url(#bl)"/>
<rect x="454" y="615.4" width="12" height="3.2" rx="1.6" ry="1.6" fill="#242424" filter="url(#bl)"/>
<rect x="467.4" y="615.4" width="11.4" height="3.2" rx="1.6" ry="1.6" fill="#242424" filter="url(#bl)"/>
<rect x="441.3" y="620.6" width="10.7" height="3.6" rx="1.8" ry="1.8" fill="#101010" filter="url(#bl)"/>
<rect x="454" y="620.6" width="12" height="3.6" rx="1.8" ry="1.8" fill="#101010" filter="url(#bl)"/>
<rect x="467.4" y="620.6" width="11.4" height="3.6" rx="1.8" ry="1.8" fill="#101010" filter="url(#bl)"/>
<rect x="439.2" y="613.3" width="42.7" height="13.8" fill="none" stroke="#2a2a2a" stroke-width="1"/>
<rect x="379.2" y="630.4" width="12.6" height="11.5" fill="#cacaca"/>
<rect x="380" y="633" width="11.2" height="5.6" rx="2.8" ry="2.8" fill="#0a0a0a" filter="url(#bl)"/>
<rect x="379.2" y="630.4" width="12.6" height="11.5" fill="none" stroke="#2a2a2a" stroke-width="1"/>
<rect x="394.1" y="630.4" width="42.8" height="11.5" fill="#d0d0d0"/>
<rect x="395" y="632.3" width="41" height="6.2" rx="3.1" ry="3.1" fill="#0a0a0a" filter="url(#bl)"/>
<rect x="394.1" y="630.4" width="42.8" height="11.5" fill="none" stroke="#2a2a2a" stroke-width="1"/>
<rect x="439.2" y="630.4" width="42.7" height="11.5" fill="#d0d0d0"/>
<rect x="440" y="632.9" width="41" height="5.8" rx="2.9" ry="2.9" fill="#0a0a0a" filter="url(#bl)"/>
<rect x="439.2" y="630.4" width="42.7" height="11.5" fill="none" stroke="#2a2a2a" stroke-width="1"/>
<rect x="0.5" y="0.5" width="519" height="662" fill="none" stroke="#141012" stroke-width="1.2"/></svg></body></html>
